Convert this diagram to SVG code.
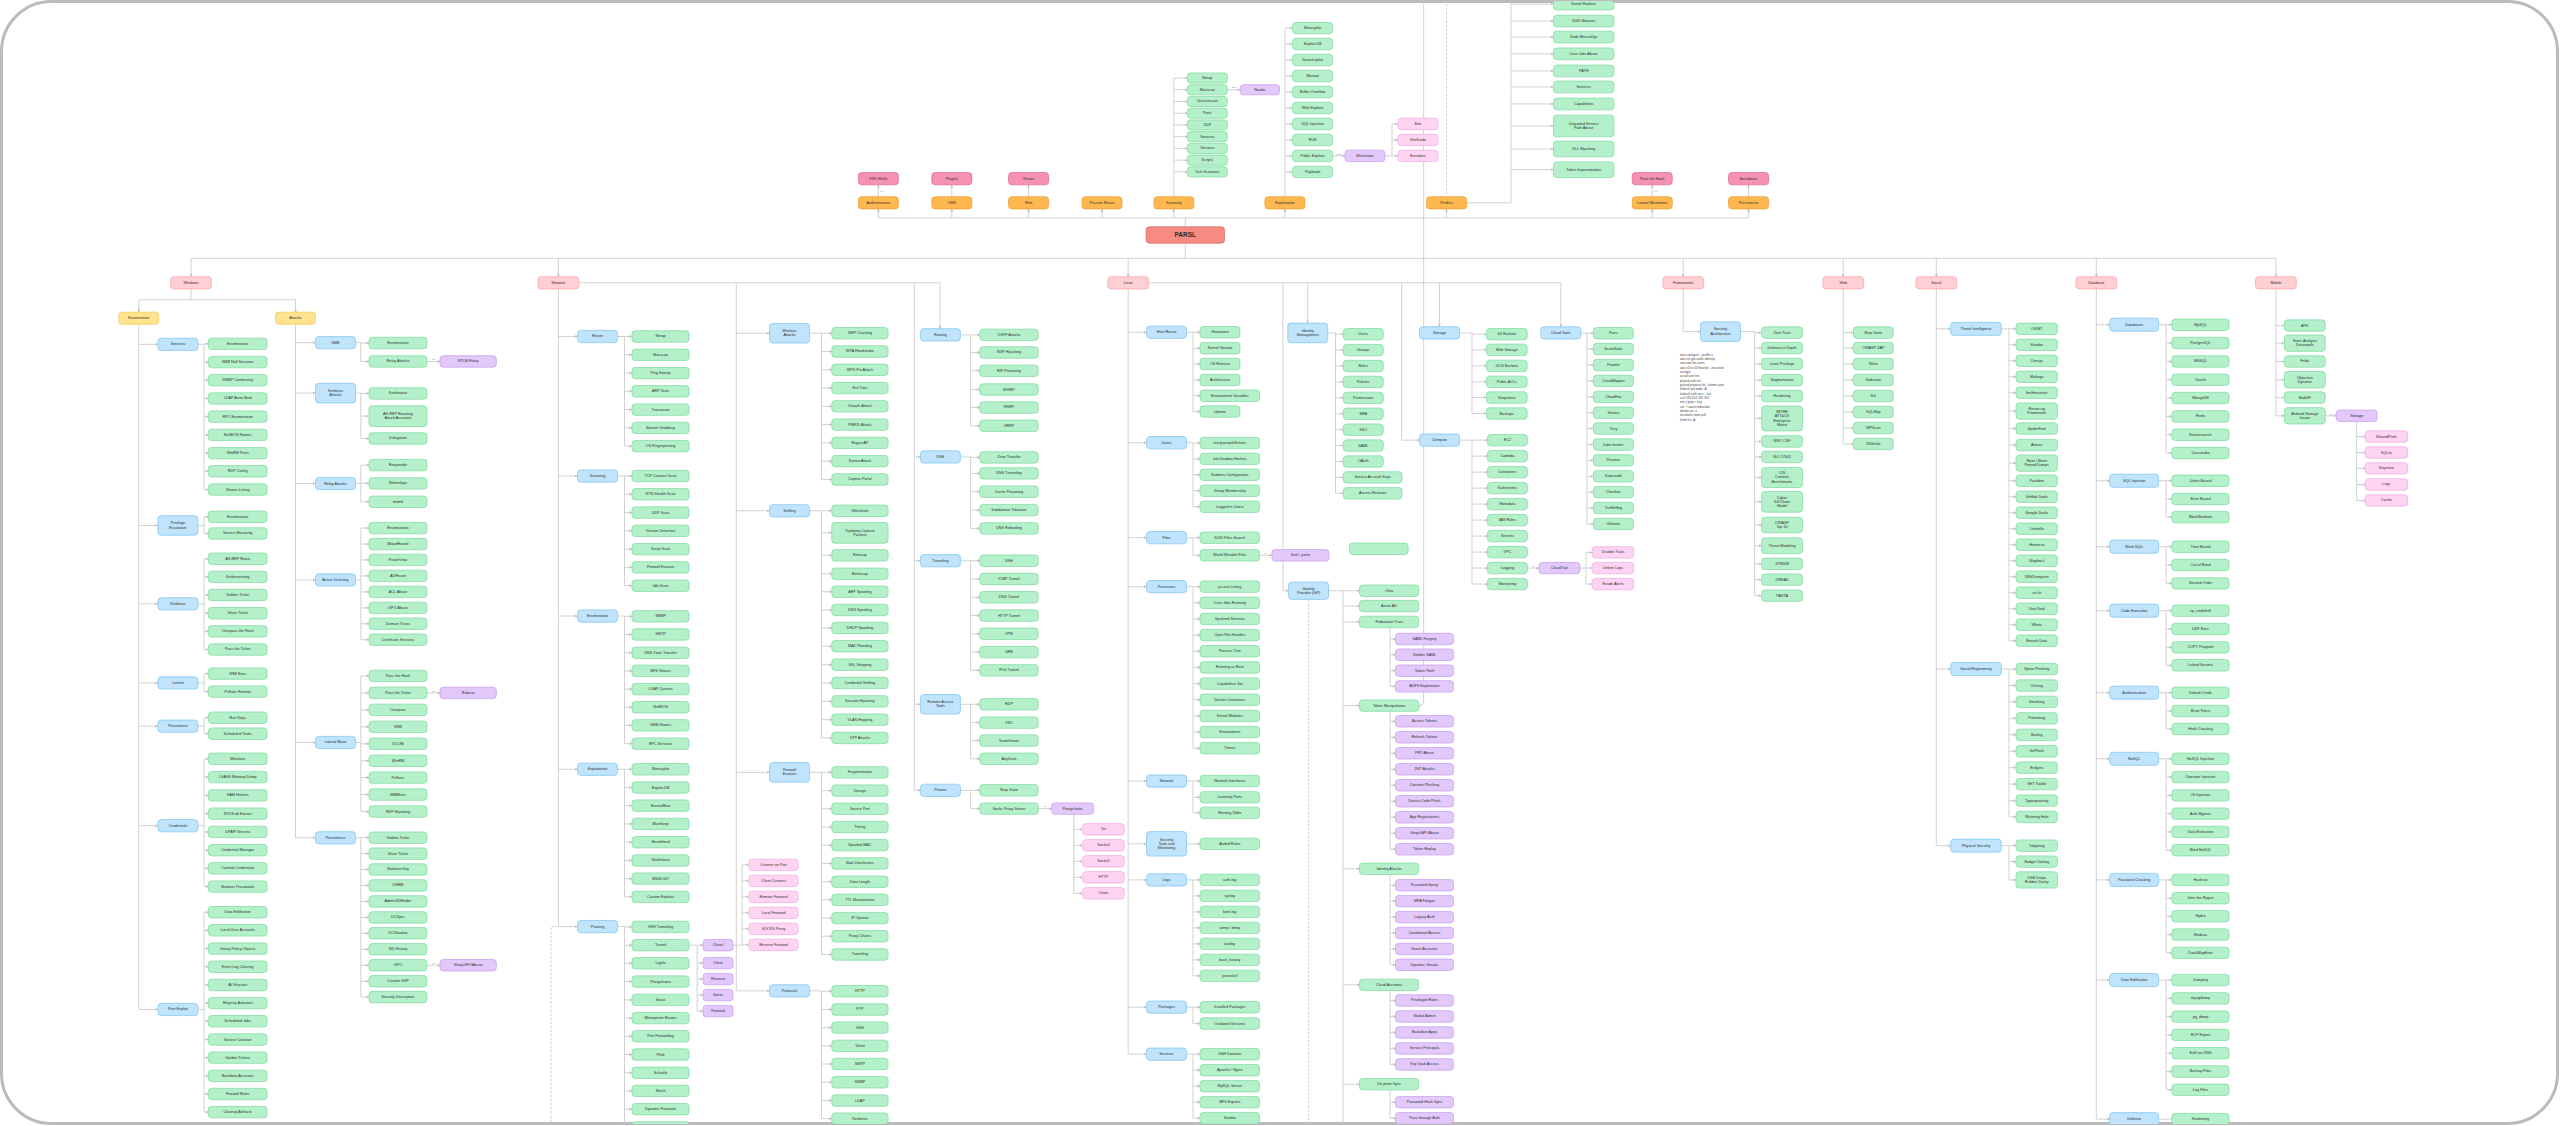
<svg xmlns="http://www.w3.org/2000/svg" width="2560" height="1126" viewBox="0 0 2560 1126">
<style>
.n rect{stroke-width:.45;rx:2px;ry:2px}
.n text,.n tspan{font-family:"Liberation Sans",Arial,sans-serif;font-size:2.3px;fill:#2b2b2b;text-anchor:middle;dominant-baseline:central}
.gr rect{fill:#b4f1ca;stroke:#80d9a1}
.bl rect{fill:#bfe4fc;stroke:#80c4f3}
.pu rect{fill:#e3c9fb;stroke:#c49ef0}
.pk rect{fill:#ffd4f3;stroke:#f3a9e2}
.ct rect{fill:#ffd0d3;stroke:#f4a4aa}
.or rect{fill:#ffb850;stroke:#eea033}
.hp rect{fill:#f592b2;stroke:#e26892}
.ye rect{fill:#ffe38f;stroke:#f0ce60}
.rt rect{fill:#f58b83;stroke:#e0665e}
.rt text{font-size:4px;font-weight:bold}
#cn path{fill:none;stroke:#cdcdcd;stroke-width:.55}
#cn .s{marker-end:url(#ar)}
#cn .d{stroke-dasharray:1.5 1}
.lb{font-family:"Liberation Sans",Arial,sans-serif;font-size:1.4px;fill:#888;text-anchor:middle}
.note{font-family:"Liberation Sans",Arial,sans-serif;font-size:1.9px;fill:#444}
</style>
<defs>
<marker id="ar" viewBox="0 0 6 6" refX="5.5" refY="3" markerWidth="1.8" markerHeight="1.8" orient="auto" markerUnits="userSpaceOnUse"><path d="M0,0L6,3L0,6z" fill="#c2c2c2"/></marker>
<clipPath id="fc"><rect x="1" y="1" width="2557" height="1123" rx="50"/></clipPath>
</defs>
<rect x="1.5" y="1.5" width="2556" height="1122" rx="50" fill="#fff" stroke="#bbbbbb" stroke-width="3"/>
<g clip-path="url(#fc)">
<g transform="scale(1.63265,1.63188)">
<g id="cn">
<path d="M726 139V133.5M538 133.5H1071"/>
<path class="s" d="M538 133.5V128.05"/><path class="s" d="M583 133.5V128.05"/><path class="s" d="M630 133.5V128.05"/><path class="s" d="M675 133.5V128.05"/><path class="s" d="M719 133.5V128.05"/><path class="s" d="M787 133.5V128.05"/><path class="s" d="M886 133.5V128.05"/><path class="s" d="M1012 133.5V128.05"/><path class="s" d="M1071 133.5V128.05"/>
<path class="s" d="M538 120.55V113.25"/><path class="s" d="M583 120.55V113.25"/><path class="s" d="M630 120.55V113.25"/><path class="s" d="M1012 120.55V113.25"/><path class="s" d="M1071 120.55V113.25"/>
<path d="M719 120.55V47.8"/>
<path class="s" d="M719 47.8H727.25"/><path class="s" d="M719 54.99H727.25"/><path class="s" d="M719 62.18H727.25"/><path class="s" d="M719 69.37H727.25"/><path class="s" d="M719 76.56H727.25"/><path class="s" d="M719 83.75H727.25"/><path class="s" d="M719 90.94H727.25"/><path class="s" d="M719 98.13H727.25"/><path class="s" d="M719 105.32H727.25"/>
<path class="s" d="M751.75 54.99H759.7"/>
<path d="M787 120.55V17.2"/>
<path class="s" d="M787 17.2H791.75"/><path class="s" d="M787 26.99H791.75"/><path class="s" d="M787 36.78H791.75"/><path class="s" d="M787 46.57H791.75"/><path class="s" d="M787 56.36H791.75"/><path class="s" d="M787 66.15H791.75"/><path class="s" d="M787 75.94H791.75"/><path class="s" d="M787 85.73H791.75"/><path class="s" d="M787 95.52H791.75"/><path class="s" d="M787 105.31H791.75"/>
<path class="s" d="M816.25 95.52H823.75"/>
<path d="M848.25 95.52H852.6M852.6 75.94V95.52"/>
<path class="s" d="M852.6 75.94H856.25"/><path class="s" d="M852.6 85.73H856.25"/><path class="s" d="M852.6 95.52H856.25"/>
<path d="M898.25 124.3H925.5V-5"/>
<path class="s" d="M925.5 2.5H951.5"/><path class="s" d="M925.5 12.9H951.5"/><path class="s" d="M925.5 22.7H951.5"/><path class="s" d="M925.5 33H951.5"/><path class="s" d="M925.5 43.5H951.5"/><path class="s" d="M925.5 53.3H951.5"/><path class="s" d="M925.5 63.7H951.5"/><path class="s" d="M925.5 77.2H951.5"/><path class="s" d="M925.5 91.3H951.5"/><path class="s" d="M925.5 104H951.5"/>
<path class="d" d="M886 -5V120.55"/>
<path class="s" d="M872 -5V429.4Q872 432.4 869 432.4"/>
<path d="M726 149V158.3M117 158.3H1394"/>
<path class="s" d="M117 158.3V169.55"/><path class="s" d="M342 158.3V169.55"/><path class="s" d="M691 158.3V169.55"/><path class="s" d="M1031 158.3V169.55"/><path class="s" d="M1129 158.3V169.55"/><path class="s" d="M1186 158.3V169.55"/><path class="s" d="M1284 158.3V169.55"/><path class="s" d="M1394 158.3V169.55"/>
<path d="M117 176.8V183.7M85 183.7H181"/>
<path class="s" d="M85 183.7V191.25"/><path class="s" d="M181 183.7V191.25"/>
<path d="M85 198.75V618.6"/>
<path class="s" d="M85 211H96.75"/><path class="s" d="M85 322H96.75"/><path class="s" d="M85 370H96.75"/><path class="s" d="M85 418.5H96.75"/><path class="s" d="M85 445H96.75"/><path class="s" d="M85 506H96.75"/><path class="s" d="M85 618.6H96.75"/>
<path d="M121.25 211H125M125 210.7V300M121.25 322H125M125 316.7V326.9M121.25 370H125M125 342.4V398M121.25 418.5H125M125 412.8V423.8M121.25 445H125M125 439.8V449.6M121.25 506H125M125 465V543.3M121.25 618.6H125M125 559V681.5"/>
<path class="s" d="M125 210.7H127.6"/><path class="s" d="M125 221.9H127.6"/><path class="s" d="M125 233H127.6"/><path class="s" d="M125 244.2H127.6"/><path class="s" d="M125 255.3H127.6"/><path class="s" d="M125 266.5H127.6"/><path class="s" d="M125 277.7H127.6"/><path class="s" d="M125 288.8H127.6"/><path class="s" d="M125 300H127.6"/>
<path class="s" d="M125 316.7H127.6"/><path class="s" d="M125 326.9H127.6"/>
<path class="s" d="M125 342.4H127.6"/><path class="s" d="M125 353.5H127.6"/><path class="s" d="M125 364.6H127.6"/><path class="s" d="M125 375.8H127.6"/><path class="s" d="M125 386.9H127.6"/><path class="s" d="M125 398H127.6"/>
<path class="s" d="M125 412.8H127.6"/><path class="s" d="M125 423.8H127.6"/><path class="s" d="M125 439.8H127.6"/><path class="s" d="M125 449.6H127.6"/>
<path class="s" d="M125 465H127.6"/><path class="s" d="M125 476.2H127.6"/><path class="s" d="M125 487.4H127.6"/><path class="s" d="M125 498.6H127.6"/><path class="s" d="M125 509.8H127.6"/><path class="s" d="M125 521H127.6"/><path class="s" d="M125 532.1H127.6"/><path class="s" d="M125 543.3H127.6"/>
<path class="s" d="M125 559H127.6"/><path class="s" d="M125 570.1H127.6"/><path class="s" d="M125 581.3H127.6"/><path class="s" d="M125 592.4H127.6"/><path class="s" d="M125 603.6H127.6"/><path class="s" d="M125 614.7H127.6"/><path class="s" d="M125 625.8H127.6"/><path class="s" d="M125 637H127.6"/><path class="s" d="M125 648.1H127.6"/><path class="s" d="M125 659.3H127.6"/><path class="s" d="M125 670.4H127.6"/><path class="s" d="M125 681.5H127.6"/>
<path d="M181 198.75V513.4"/>
<path class="s" d="M181 210H193.25"/><path class="s" d="M181 240.9H193.25"/><path class="s" d="M181 296.3H193.25"/><path class="s" d="M181 355.4H193.25"/><path class="s" d="M181 455H193.25"/><path class="s" d="M181 513.4H193.25"/>
<path d="M217.75 210H221M221 210V221.5M217.75 240.9H221M221 240.9V268.7M217.75 296.3H221M221 285V307.5M217.75 355.4H221M221 323.6V392M217.75 455H221M221 414.2V497.3M217.75 513.4H221M221 513.3V611"/>
<path class="s" d="M221 210.2H226"/><path class="s" d="M221 221.5H226"/><path class="s" d="M221 241.1H226"/><path class="s" d="M221 255H226"/><path class="s" d="M221 268.7H226"/><path class="s" d="M221 285H226"/><path class="s" d="M221 296.2H226"/><path class="s" d="M221 307.5H226"/>
<path class="s" d="M221 323.6H226"/><path class="s" d="M221 333.4H226"/><path class="s" d="M221 343.1H226"/><path class="s" d="M221 352.9H226"/><path class="s" d="M221 362.7H226"/><path class="s" d="M221 372.5H226"/><path class="s" d="M221 382.2H226"/><path class="s" d="M221 392H226"/>
<path class="s" d="M221 414.2H226"/><path class="s" d="M221 424.6H226"/><path class="s" d="M221 435H226"/><path class="s" d="M221 445.4H226"/><path class="s" d="M221 455.8H226"/><path class="s" d="M221 466.2H226"/><path class="s" d="M221 476.5H226"/><path class="s" d="M221 486.9H226"/><path class="s" d="M221 497.3H226"/>
<path class="s" d="M221 513.3H226"/><path class="s" d="M221 523.1H226"/><path class="s" d="M221 532.8H226"/><path class="s" d="M221 542.6H226"/><path class="s" d="M221 552.4H226"/><path class="s" d="M221 562.2H226"/><path class="s" d="M221 571.9H226"/><path class="s" d="M221 581.7H226"/><path class="s" d="M221 591.5H226"/><path class="s" d="M221 601.3H226"/><path class="s" d="M221 611H226"/>
<path class="s" d="M261.5 221.5H269.5"/><path class="s" d="M261.5 424.6H269.5"/><path class="s" d="M261.5 591.5H269.5"/>
<path d="M342 176.8V567.8M354.5 173.3H575.8M451 173.3V607.2M560 173.3V484.3"/>
<path class="s" d="M575.8 173.3V201.45"/>
<path class="d" d="M337.5 695V567.8H353.75"/>
<path class="s" d="M342 206.2H353.75"/><path class="s" d="M342 291.7H353.75"/><path class="s" d="M342 377.5H353.75"/><path class="s" d="M342 471.4H353.75"/><path class="s" d="M342 567.8H353.75"/>
<path d="M378.25 206.2H382.5M382.5 206.2V273.4M378.25 291.7H382.5M382.5 291.7V358.9M378.25 377.5H382.5M382.5 377.5V455.7M378.25 471.4H382.5M382.5 471.4V549.6M378.25 567.8H382.5M382.5 567.8V690.9"/>
<path class="s" d="M382.5 206.2H387.1"/><path class="s" d="M382.5 217.4H387.1"/><path class="s" d="M382.5 228.6H387.1"/><path class="s" d="M382.5 239.8H387.1"/><path class="s" d="M382.5 251H387.1"/><path class="s" d="M382.5 262.2H387.1"/><path class="s" d="M382.5 273.4H387.1"/>
<path class="s" d="M382.5 291.7H387.1"/><path class="s" d="M382.5 302.9H387.1"/><path class="s" d="M382.5 314.1H387.1"/><path class="s" d="M382.5 325.3H387.1"/><path class="s" d="M382.5 336.5H387.1"/><path class="s" d="M382.5 347.7H387.1"/><path class="s" d="M382.5 358.9H387.1"/>
<path class="s" d="M382.5 377.7H387.1"/><path class="s" d="M382.5 388.8H387.1"/><path class="s" d="M382.5 400H387.1"/><path class="s" d="M382.5 411.1H387.1"/><path class="s" d="M382.5 422.3H387.1"/><path class="s" d="M382.5 433.4H387.1"/><path class="s" d="M382.5 444.5H387.1"/><path class="s" d="M382.5 455.7H387.1"/>
<path class="s" d="M382.5 471.4H387.1"/><path class="s" d="M382.5 482.6H387.1"/><path class="s" d="M382.5 493.7H387.1"/><path class="s" d="M382.5 504.9H387.1"/><path class="s" d="M382.5 516.1H387.1"/><path class="s" d="M382.5 527.3H387.1"/><path class="s" d="M382.5 538.4H387.1"/><path class="s" d="M382.5 549.6H387.1"/>
<path class="s" d="M382.5 568H387.1"/><path class="s" d="M382.5 579.2H387.1"/><path class="s" d="M382.5 590.3H387.1"/><path class="s" d="M382.5 601.5H387.1"/><path class="s" d="M382.5 612.7H387.1"/><path class="s" d="M382.5 623.9H387.1"/><path class="s" d="M382.5 635H387.1"/><path class="s" d="M382.5 646.2H387.1"/><path class="s" d="M382.5 657.4H387.1"/><path class="s" d="M382.5 668.5H387.1"/><path class="s" d="M382.5 679.7H387.1"/><path class="s" d="M382.5 690.9H387.1"/>
<path d="M422.1 579.2H427M427 579.2V619.6"/>
<path class="s" d="M427 579.2H430.6"/><path class="s" d="M427 590.2H430.6"/><path class="s" d="M427 600H430.6"/><path class="s" d="M427 609.8H430.6"/><path class="s" d="M427 619.6H430.6"/>
<path d="M449 579.2H454.5M454.5 530V579.2"/>
<path class="s" d="M454.5 530H458.8"/><path class="s" d="M454.5 539.8H458.8"/><path class="s" d="M454.5 549.6H458.8"/><path class="s" d="M454.5 559.4H458.8"/><path class="s" d="M454.5 569.2H458.8"/><path class="s" d="M454.5 579H458.8"/>
<path class="s" d="M451 204.2H471.35"/><path class="s" d="M451 313H471.35"/><path class="s" d="M451 473.3H471.35"/><path class="s" d="M451 607.2H471.35"/>
<path d="M495.85 204.2H503.2M503.2 204.2V293.8M495.85 313H503.2M503.2 313V452.2M495.85 473.3H503.2M503.2 473.3V584.9M495.85 607.2H503.2M503.2 607.2V685.5"/>
<path class="s" d="M503.2 204.2H509.45"/><path class="s" d="M503.2 215.4H509.45"/><path class="s" d="M503.2 226.6H509.45"/><path class="s" d="M503.2 237.8H509.45"/><path class="s" d="M503.2 249H509.45"/><path class="s" d="M503.2 260.2H509.45"/><path class="s" d="M503.2 271.4H509.45"/><path class="s" d="M503.2 282.6H509.45"/><path class="s" d="M503.2 293.8H509.45"/>
<path class="s" d="M503.2 313H509.45"/><path class="s" d="M503.2 326.5H509.45"/><path class="s" d="M503.2 340.3H509.45"/><path class="s" d="M503.2 351.6H509.45"/><path class="s" d="M503.2 362.6H509.45"/><path class="s" d="M503.2 373.8H509.45"/><path class="s" d="M503.2 384.8H509.45"/><path class="s" d="M503.2 396H509.45"/><path class="s" d="M503.2 407.3H509.45"/><path class="s" d="M503.2 418.5H509.45"/><path class="s" d="M503.2 429.8H509.45"/><path class="s" d="M503.2 441H509.45"/><path class="s" d="M503.2 452.2H509.45"/>
<path class="s" d="M503.2 473.3H509.45"/><path class="s" d="M503.2 484.5H509.45"/><path class="s" d="M503.2 495.6H509.45"/><path class="s" d="M503.2 506.8H509.45"/><path class="s" d="M503.2 517.9H509.45"/><path class="s" d="M503.2 529.1H509.45"/><path class="s" d="M503.2 540.3H509.45"/><path class="s" d="M503.2 551.4H509.45"/><path class="s" d="M503.2 562.6H509.45"/><path class="s" d="M503.2 573.7H509.45"/><path class="s" d="M503.2 584.9H509.45"/>
<path class="s" d="M503.2 607.4H509.45"/><path class="s" d="M503.2 618.6H509.45"/><path class="s" d="M503.2 629.7H509.45"/><path class="s" d="M503.2 640.9H509.45"/><path class="s" d="M503.2 652H509.45"/><path class="s" d="M503.2 663.2H509.45"/><path class="s" d="M503.2 674.4H509.45"/><path class="s" d="M503.2 685.5H509.45"/>
<path class="s" d="M560 280H563.75"/><path class="s" d="M560 343.6H563.75"/><path class="s" d="M560 431.6H563.75"/><path class="s" d="M560 484.3H563.75"/>
<path d="M588.25 205.2H594.5M594.5 205.2V260.9M588.25 280H594.5M594.5 280V323.8M588.25 343.6H594.5M594.5 343.6V410.8M588.25 431.6H594.5M594.5 431.6V465M588.25 484.3H594.5M594.5 484.3V495.5"/>
<path class="s" d="M594.5 205.2H600.1"/><path class="s" d="M594.5 216H600.1"/><path class="s" d="M594.5 227.2H600.1"/><path class="s" d="M594.5 238.7H600.1"/><path class="s" d="M594.5 249.7H600.1"/><path class="s" d="M594.5 260.9H600.1"/>
<path class="s" d="M594.5 280.3H600.1"/><path class="s" d="M594.5 290.1H600.1"/><path class="s" d="M594.5 301.3H600.1"/><path class="s" d="M594.5 312.6H600.1"/><path class="s" d="M594.5 323.8H600.1"/>
<path class="s" d="M594.5 343.6H600.1"/><path class="s" d="M594.5 354.8H600.1"/><path class="s" d="M594.5 366H600.1"/><path class="s" d="M594.5 377.2H600.1"/><path class="s" d="M594.5 388.4H600.1"/><path class="s" d="M594.5 399.6H600.1"/><path class="s" d="M594.5 410.8H600.1"/>
<path class="s" d="M594.5 431.6H600.1"/><path class="s" d="M594.5 442.8H600.1"/><path class="s" d="M594.5 453.8H600.1"/><path class="s" d="M594.5 465H600.1"/>
<path class="s" d="M594.5 484.3H600.1"/><path class="s" d="M594.5 495.5H600.1"/>
<path class="s" d="M635.9 495.5H644.15"/>
<path d="M657.7 499V547.4"/>
<path class="s" d="M657.7 508.2H663.05"/><path class="s" d="M657.7 518H663.05"/><path class="s" d="M657.7 527.8H663.05"/><path class="s" d="M657.7 537.6H663.05"/><path class="s" d="M657.7 547.4H663.05"/>
<path d="M691 176.8V646M703.5 173.3H956"/>
<path class="s" d="M785.8 173.3V362H789.25"/><path class="s" d="M801 173.3V198"/><path class="s" d="M858.5 173.3V269.7H869.45"/><path class="s" d="M881.7 173.3V200.25"/><path class="s" d="M956 173.3V200.25"/>
<path class="s" d="M691 203.6H702.25"/><path class="s" d="M691 271.3H702.25"/><path class="s" d="M691 329.5H702.25"/><path class="s" d="M691 359.5H702.25"/><path class="s" d="M691 478.6H702.25"/><path class="s" d="M691 517.1H702.25"/><path class="s" d="M691 539.2H702.25"/><path class="s" d="M691 617.2H702.25"/><path class="s" d="M691 646H702.25"/>
<path d="M726.75 203.6H730.7M730.7 203.6V252.2M726.75 271.3H730.7M730.7 271.3V310.5M726.75 329.5H730.7M730.7 329.5V340.3M726.75 359.5H730.7M730.7 359.5V458.5M726.75 478.6H730.7M730.7 478.6V498.1M726.75 517.1H730.7M726.75 539.2H730.7M730.7 539.2V598M726.75 617.2H730.7M730.7 617.2V627.2M726.75 646H730.7M730.7 646V685.2"/>
<path class="s" d="M730.7 203.6H735"/><path class="s" d="M730.7 213.4H735"/><path class="s" d="M730.7 223H735"/><path class="s" d="M730.7 232.9H735"/><path class="s" d="M730.7 242.5H735"/><path class="s" d="M730.7 252.2H735"/>
<path class="s" d="M730.7 271.5H735"/><path class="s" d="M730.7 281.2H735"/><path class="s" d="M730.7 290.9H735"/><path class="s" d="M730.7 300.7H735"/><path class="s" d="M730.7 310.5H735"/>
<path class="s" d="M730.7 329.5H735"/><path class="s" d="M730.7 340.3H735"/>
<path class="s" d="M730.7 359.5H735"/><path class="s" d="M730.7 369.4H735"/><path class="s" d="M730.7 379.3H735"/><path class="s" d="M730.7 389.2H735"/><path class="s" d="M730.7 399.1H735"/><path class="s" d="M730.7 409H735"/><path class="s" d="M730.7 418.9H735"/><path class="s" d="M730.7 428.8H735"/><path class="s" d="M730.7 438.7H735"/><path class="s" d="M730.7 448.6H735"/><path class="s" d="M730.7 458.5H735"/>
<path class="s" d="M730.7 478.6H735"/><path class="s" d="M730.7 488.6H735"/><path class="s" d="M730.7 498.1H735"/><path class="s" d="M730.7 517.1H735"/>
<path class="s" d="M730.7 539.2H735"/><path class="s" d="M730.7 549H735"/><path class="s" d="M730.7 558.8H735"/><path class="s" d="M730.7 568.6H735"/><path class="s" d="M730.7 578.4H735"/><path class="s" d="M730.7 588.2H735"/><path class="s" d="M730.7 598H735"/>
<path class="s" d="M730.7 617.2H735"/><path class="s" d="M730.7 627.2H735"/>
<path class="s" d="M730.7 646H735"/><path class="s" d="M730.7 655.8H735"/><path class="s" d="M730.7 665.6H735"/><path class="s" d="M730.7 675.4H735"/><path class="s" d="M730.7 685.2H735"/>
<path class="s" d="M771.5 340.3H779"/>
<path d="M813.25 204H818M818 204V302.3"/>
<path class="s" d="M818 204.8H822.75"/><path class="s" d="M818 214.55H822.75"/><path class="s" d="M818 224.3H822.75"/><path class="s" d="M818 234.05H822.75"/><path class="s" d="M818 243.8H822.75"/><path class="s" d="M818 253.55H822.75"/><path class="s" d="M818 263.3H822.75"/><path class="s" d="M818 273.05H822.75"/><path class="s" d="M818 282.8H822.75"/><path class="s" d="M818 292.55H822.75"/><path class="s" d="M818 302.3H822.75"/>
<path d="M813.75 362H822.6M822.6 362V695"/>
<path class="d" d="M801.5 367.3V695"/>
<path class="s" d="M822.6 362H832.65"/><path class="s" d="M822.6 371.4H832.65"/><path class="s" d="M822.6 381.1H832.65"/><path class="s" d="M822.6 432.4H832.65"/><path class="s" d="M822.6 532.4H832.65"/><path class="s" d="M822.6 603.5H832.65"/><path class="s" d="M822.6 664.4H832.65"/>
<path d="M851.4 384.6V420.6M851.4 435.9V520.4M851.4 535.9V591.2M851.4 607V652.3M851.4 667.9V685.2"/>
<path class="s" d="M851.4 391.6H854.75"/><path class="s" d="M851.4 401.2H854.75"/><path class="s" d="M851.4 411H854.75"/><path class="s" d="M851.4 420.6H854.75"/>
<path class="s" d="M851.4 442H854.75"/><path class="s" d="M851.4 451.8H854.75"/><path class="s" d="M851.4 461.6H854.75"/><path class="s" d="M851.4 471.4H854.75"/><path class="s" d="M851.4 481.2H854.75"/><path class="s" d="M851.4 491H854.75"/><path class="s" d="M851.4 500.8H854.75"/><path class="s" d="M851.4 510.6H854.75"/><path class="s" d="M851.4 520.4H854.75"/>
<path class="s" d="M851.4 542.5H854.75"/><path class="s" d="M851.4 552.2H854.75"/><path class="s" d="M851.4 562H854.75"/><path class="s" d="M851.4 571.7H854.75"/><path class="s" d="M851.4 581.5H854.75"/><path class="s" d="M851.4 591.2H854.75"/>
<path class="s" d="M851.4 613.1H854.75"/><path class="s" d="M851.4 622.9H854.75"/><path class="s" d="M851.4 632.7H854.75"/><path class="s" d="M851.4 642.5H854.75"/><path class="s" d="M851.4 652.3H854.75"/>
<path class="s" d="M851.4 675.4H854.75"/><path class="s" d="M851.4 685.2H854.75"/>
<path d="M893.95 204H901.6M901.6 204V253.4M893.95 269.7H901.6M901.6 269.7V357.9"/>
<path class="s" d="M901.6 204.8H910.4"/><path class="s" d="M901.6 214.4H910.4"/><path class="s" d="M901.6 224.2H910.4"/><path class="s" d="M901.6 234H910.4"/><path class="s" d="M901.6 243.6H910.4"/><path class="s" d="M901.6 253.4H910.4"/>
<path class="s" d="M901.6 269.7H911.05"/><path class="s" d="M901.6 279.5H911.05"/><path class="s" d="M901.6 289.3H911.05"/><path class="s" d="M901.6 299.1H911.05"/><path class="s" d="M901.6 308.9H911.05"/><path class="s" d="M901.6 318.7H911.05"/><path class="s" d="M901.6 328.5H911.05"/><path class="s" d="M901.6 338.3H911.05"/><path class="s" d="M901.6 348.1H911.05"/><path class="s" d="M901.6 357.9H911.05"/>
<path class="s" d="M935.55 348.1H942.7"/>
<path d="M967.7 348.1H971.4M971.4 338.5V357.9"/>
<path class="s" d="M971.4 338.5H975.25"/><path class="s" d="M971.4 348.1H975.25"/><path class="s" d="M971.4 357.9H975.25"/>
<path d="M968.25 204H972M972 204V321.1"/>
<path class="s" d="M972 204.2H975.95"/><path class="s" d="M972 213.9H975.95"/><path class="s" d="M972 223.7H975.95"/><path class="s" d="M972 233.4H975.95"/><path class="s" d="M972 243.2H975.95"/><path class="s" d="M972 252.9H975.95"/><path class="s" d="M972 262.6H975.95"/><path class="s" d="M972 272.4H975.95"/><path class="s" d="M972 282.1H975.95"/><path class="s" d="M972 291.9H975.95"/><path class="s" d="M972 301.6H975.95"/><path class="s" d="M972 311.3H975.95"/><path class="s" d="M972 321.1H975.95"/>
<path class="s" d="M1031 176.8V203.2H1041.55"/>
<path d="M1066.05 203.2H1074.7M1074.7 203.2V365"/>
<path class="s" d="M1074.7 203.8H1079"/><path class="s" d="M1074.7 213.3H1079"/><path class="s" d="M1074.7 223H1079"/><path class="s" d="M1074.7 233H1079"/><path class="s" d="M1074.7 242.7H1079"/><path class="s" d="M1074.7 256.4H1079"/><path class="s" d="M1074.7 270.5H1079"/><path class="s" d="M1074.7 280H1079"/><path class="s" d="M1074.7 292.6H1079"/><path class="s" d="M1074.7 307.5H1079"/><path class="s" d="M1074.7 321.7H1079"/><path class="s" d="M1074.7 334.4H1079"/><path class="s" d="M1074.7 345.5H1079"/><path class="s" d="M1074.7 355.2H1079"/><path class="s" d="M1074.7 365H1079"/>
<path d="M1129 176.8V272.1"/>
<path class="s" d="M1129 203.8H1135.15"/><path class="s" d="M1129 213.3H1135.15"/><path class="s" d="M1129 223.1H1135.15"/><path class="s" d="M1129 232.9H1135.15"/><path class="s" d="M1129 242.7H1135.15"/><path class="s" d="M1129 252.5H1135.15"/><path class="s" d="M1129 262.3H1135.15"/><path class="s" d="M1129 272.1H1135.15"/>
<path d="M1186 176.8V518.2"/>
<path class="s" d="M1186 201.5H1194.8"/><path class="s" d="M1186 410H1194.8"/><path class="s" d="M1186 518.2H1194.8"/>
<path d="M1225.8 201.5H1230.5M1230.5 201.5V392.6M1225.8 410H1230.5M1230.5 410V500.6M1225.8 518.2H1230.5M1230.5 518.2V539.2"/>
<path class="s" d="M1230.5 201.5H1234.8"/><path class="s" d="M1230.5 211.3H1234.8"/><path class="s" d="M1230.5 221.1H1234.8"/><path class="s" d="M1230.5 230.9H1234.8"/><path class="s" d="M1230.5 240.7H1234.8"/><path class="s" d="M1230.5 251.9H1234.8"/><path class="s" d="M1230.5 262.6H1234.8"/><path class="s" d="M1230.5 272.7H1234.8"/><path class="s" d="M1230.5 283.8H1234.8"/><path class="s" d="M1230.5 294.6H1234.8"/><path class="s" d="M1230.5 304.4H1234.8"/><path class="s" d="M1230.5 314.2H1234.8"/><path class="s" d="M1230.5 324H1234.8"/><path class="s" d="M1230.5 333.8H1234.8"/><path class="s" d="M1230.5 343.6H1234.8"/><path class="s" d="M1230.5 353.4H1234.8"/><path class="s" d="M1230.5 363.2H1234.8"/><path class="s" d="M1230.5 373H1234.8"/><path class="s" d="M1230.5 382.8H1234.8"/><path class="s" d="M1230.5 392.6H1234.8"/>
<path class="s" d="M1230.5 410H1234.8"/><path class="s" d="M1230.5 420.1H1234.8"/><path class="s" d="M1230.5 430.1H1234.8"/><path class="s" d="M1230.5 440.2H1234.8"/><path class="s" d="M1230.5 450.3H1234.8"/><path class="s" d="M1230.5 460.4H1234.8"/><path class="s" d="M1230.5 470.4H1234.8"/><path class="s" d="M1230.5 480.5H1234.8"/><path class="s" d="M1230.5 490.6H1234.8"/><path class="s" d="M1230.5 500.6H1234.8"/>
<path class="s" d="M1230.5 518.2H1234.8"/><path class="s" d="M1230.5 528H1234.8"/><path class="s" d="M1230.5 539.2H1234.8"/>
<path d="M1284 176.8V685.8"/>
<path class="s" d="M1284 199H1292.2"/><path class="s" d="M1284 294.6H1292.2"/><path class="s" d="M1284 335H1292.2"/><path class="s" d="M1284 374.2H1292.2"/><path class="s" d="M1284 424.5H1292.2"/><path class="s" d="M1284 465H1292.2"/><path class="s" d="M1284 539.2H1292.2"/><path class="s" d="M1284 600.6H1292.2"/><path class="s" d="M1284 685.8H1292.2"/>
<path d="M1322.2 199H1326.7M1326.7 199V277.6M1322.2 294.6H1326.7M1326.7 294.6V316.9M1322.2 335H1326.7M1326.7 335V357.5M1322.2 374.2H1326.7M1326.7 374.2V407.7M1322.2 424.5H1326.7M1326.7 424.5V446.7M1322.2 465H1326.7M1326.7 465V521M1322.2 539.2H1326.7M1326.7 539.2V583.9M1322.2 600.6H1326.7M1326.7 600.6V667.8M1322.2 685.8H1330.3"/>
<path class="s" d="M1326.7 199H1330.3"/><path class="s" d="M1326.7 210.2H1330.3"/><path class="s" d="M1326.7 221.5H1330.3"/><path class="s" d="M1326.7 232.7H1330.3"/><path class="s" d="M1326.7 243.9H1330.3"/><path class="s" d="M1326.7 255.2H1330.3"/><path class="s" d="M1326.7 266.4H1330.3"/><path class="s" d="M1326.7 277.6H1330.3"/>
<path class="s" d="M1326.7 294.6H1330.3"/><path class="s" d="M1326.7 305.8H1330.3"/><path class="s" d="M1326.7 316.9H1330.3"/><path class="s" d="M1326.7 335H1330.3"/><path class="s" d="M1326.7 346.2H1330.3"/><path class="s" d="M1326.7 357.5H1330.3"/>
<path class="s" d="M1326.7 374.2H1330.3"/><path class="s" d="M1326.7 385.4H1330.3"/><path class="s" d="M1326.7 396.7H1330.3"/><path class="s" d="M1326.7 407.7H1330.3"/><path class="s" d="M1326.7 424.5H1330.3"/><path class="s" d="M1326.7 435.7H1330.3"/><path class="s" d="M1326.7 446.7H1330.3"/>
<path class="s" d="M1326.7 465H1330.3"/><path class="s" d="M1326.7 476.2H1330.3"/><path class="s" d="M1326.7 487.4H1330.3"/><path class="s" d="M1326.7 498.6H1330.3"/><path class="s" d="M1326.7 509.8H1330.3"/><path class="s" d="M1326.7 521H1330.3"/>
<path class="s" d="M1326.7 539.2H1330.3"/><path class="s" d="M1326.7 550.4H1330.3"/><path class="s" d="M1326.7 561.5H1330.3"/><path class="s" d="M1326.7 572.7H1330.3"/><path class="s" d="M1326.7 583.9H1330.3"/>
<path class="s" d="M1326.7 600.6H1330.3"/><path class="s" d="M1326.7 611.8H1330.3"/><path class="s" d="M1326.7 623H1330.3"/><path class="s" d="M1326.7 634.2H1330.3"/><path class="s" d="M1326.7 645.4H1330.3"/><path class="s" d="M1326.7 656.6H1330.3"/><path class="s" d="M1326.7 667.8H1330.3"/>
<path d="M1394 176.8V254.8"/>
<path class="s" d="M1394 199.5H1399.2"/><path class="s" d="M1394 210.3H1399.2"/><path class="s" d="M1394 221.5H1399.2"/><path class="s" d="M1394 232.7H1399.2"/><path class="s" d="M1394 243.6H1399.2"/><path class="s" d="M1394 254.8H1399.2"/>
<path class="s" d="M1424.2 254.8H1431"/>
<path d="M1443.5 258.3V306.7"/>
<path class="s" d="M1443.5 267.5H1448.7"/><path class="s" d="M1443.5 277.3H1448.7"/><path class="s" d="M1443.5 287H1448.7"/><path class="s" d="M1443.5 296.9H1448.7"/><path class="s" d="M1443.5 306.7H1448.7"/>
</g>
<g id="link-labels">
<text class="lb" x="540" y="117.4">via</text><text class="lb" x="1014" y="117.4">via</text><text class="lb" x="755.7" y="54.2">uses</text><text class="lb" x="820" y="94.8">uses</text><text class="lb" x="265.5" y="220.8">via</text><text class="lb" x="265.5" y="423.9">via</text><text class="lb" x="265.5" y="590.8">via</text><text class="lb" x="775.3" y="339.6">via</text><text class="lb" x="640" y="494.8">via</text><text class="lb" x="939.1" y="347.4">via</text><text class="lb" x="1427.6" y="254.1">via</text>
</g>
<g id="note">
<text class="note" x="1029" y="218">aws configure --profile x</text>
<text class="note" x="1029" y="220.65">aws sts get-caller-identity</text>
<text class="note" x="1029" y="223.3">aws iam list-users</text>
<text class="note" x="1029" y="225.95">aws s3 ls s3://bucket --recursive</text>
<text class="note" x="1029" y="228.6">az login</text>
<text class="note" x="1029" y="231.25">az ad user list</text>
<text class="note" x="1029" y="233.9">gcloud auth list</text>
<text class="note" x="1029" y="236.55">gcloud projects list --format json</text>
<text class="note" x="1029" y="239.2">kubectl get pods -A</text>
<text class="note" x="1029" y="241.85">kubectl auth can-i --list</text>
<text class="note" x="1029" y="244.5">curl 169.254.169.254</text>
<text class="note" x="1029" y="247.15">env | grep -i key</text>
<text class="note" x="1029" y="249.8">cat ~/.aws/credentials</text>
<text class="note" x="1029" y="252.45">docker ps -a</text>
<text class="note" x="1029" y="255.1">terraform state pull</text>
<text class="note" x="1029" y="257.75">helm list -A</text>
</g>
<g id="root" class="n rt"><rect x="702" y="139" width="48" height="10"/><text x="726" y="144">PARSL</text></g>
<g id="o1" class="n or"><rect x="525.75" y="120.55" width="24.5" height="7.5"/><text x="538" y="124.3">Authentication</text></g>
<g id="o2" class="n or"><rect x="570.75" y="120.55" width="24.5" height="7.5"/><text x="583" y="124.3">CMS</text></g>
<g id="o3" class="n or"><rect x="617.75" y="120.55" width="24.5" height="7.5"/><text x="630" y="124.3">Web</text></g>
<g id="o4" class="n or"><rect x="662.75" y="120.55" width="24.5" height="7.5"/><text x="675" y="124.3">Passive Recon</text></g>
<g id="o5" class="n or"><rect x="706.75" y="120.55" width="24.5" height="7.5"/><text x="719" y="124.3">Scanning</text></g>
<g id="o6" class="n or"><rect x="774.75" y="120.55" width="24.5" height="7.5"/><text x="787" y="124.3">Exploitation</text></g>
<g id="o7" class="n or"><rect x="873.75" y="120.55" width="24.5" height="7.5"/><text x="886" y="124.3">PrivEsc</text></g>
<g id="o8" class="n or"><rect x="999.75" y="120.55" width="24.5" height="7.5"/><text x="1012" y="124.3">Lateral Movement</text></g>
<g id="o9" class="n or"><rect x="1058.75" y="120.55" width="24.5" height="7.5"/><text x="1071" y="124.3">Persistence</text></g>
<g id="p1" class="n hp"><rect x="525.75" y="105.75" width="24.5" height="7.5"/><text x="538" y="109.5">XSS Shells</text></g>
<g id="p2" class="n hp"><rect x="570.75" y="105.75" width="24.5" height="7.5"/><text x="583" y="109.5">Plugins</text></g>
<g id="p3" class="n hp"><rect x="617.75" y="105.75" width="24.5" height="7.5"/><text x="630" y="109.5">Vhosts</text></g>
<g id="p8" class="n hp"><rect x="999.75" y="105.75" width="24.5" height="7.5"/><text x="1012" y="109.5">Pass the Hash</text></g>
<g id="p9" class="n hp"><rect x="1058.75" y="105.75" width="24.5" height="7.5"/><text x="1071" y="109.5">Backdoors</text></g>
<g id="s1" class="n gr"><rect x="727.25" y="44.7" width="24.5" height="6.2"/><text x="739.5" y="47.8">Nmap</text></g>
<g id="s2" class="n gr"><rect x="727.25" y="51.89" width="24.5" height="6.2"/><text x="739.5" y="54.99">Masscan</text></g>
<g id="s3" class="n gr"><rect x="727.25" y="59.08" width="24.5" height="6.2"/><text x="739.5" y="62.18">Unicornscan</text></g>
<g id="s4" class="n gr"><rect x="727.25" y="66.27" width="24.5" height="6.2"/><text x="739.5" y="69.37">Ports</text></g>
<g id="s5" class="n gr"><rect x="727.25" y="73.46" width="24.5" height="6.2"/><text x="739.5" y="76.56">UDP</text></g>
<g id="s6" class="n gr"><rect x="727.25" y="80.65" width="24.5" height="6.2"/><text x="739.5" y="83.75">Services</text></g>
<g id="s7" class="n gr"><rect x="727.25" y="87.84" width="24.5" height="6.2"/><text x="739.5" y="90.94">Versions</text></g>
<g id="s8" class="n gr"><rect x="727.25" y="95.03" width="24.5" height="6.2"/><text x="739.5" y="98.13">Scripts</text></g>
<g id="s9" class="n gr"><rect x="727.25" y="102.22" width="24.5" height="6.2"/><text x="739.5" y="105.32">Vuln Scanners</text></g>
<g id="s2p" class="n pu"><rect x="759.7" y="51.89" width="24" height="6.2"/><text x="771.7" y="54.99">Naabu</text></g>
<g id="e1" class="n gr"><rect x="791.75" y="13.7" width="24.5" height="7"/><text x="804" y="17.2">Metasploit</text></g>
<g id="e2" class="n gr"><rect x="791.75" y="23.49" width="24.5" height="7"/><text x="804" y="26.99">Exploit-DB</text></g>
<g id="e3" class="n gr"><rect x="791.75" y="33.28" width="24.5" height="7"/><text x="804" y="36.78">Searchsploit</text></g>
<g id="e4" class="n gr"><rect x="791.75" y="43.07" width="24.5" height="7"/><text x="804" y="46.57">Manual</text></g>
<g id="e5" class="n gr"><rect x="791.75" y="52.86" width="24.5" height="7"/><text x="804" y="56.36">Buffer Overflow</text></g>
<g id="e6" class="n gr"><rect x="791.75" y="62.65" width="24.5" height="7"/><text x="804" y="66.15">Web Exploits</text></g>
<g id="e7" class="n gr"><rect x="791.75" y="72.44" width="24.5" height="7"/><text x="804" y="75.94">SQL Injection</text></g>
<g id="e8" class="n gr"><rect x="791.75" y="82.23" width="24.5" height="7"/><text x="804" y="85.73">RCE</text></g>
<g id="e9" class="n gr"><rect x="791.75" y="92.02" width="24.5" height="7"/><text x="804" y="95.52">Public Exploits</text></g>
<g id="e10" class="n gr"><rect x="791.75" y="101.81" width="24.5" height="7"/><text x="804" y="105.31">Payloads</text></g>
<g id="e9p" class="n pu"><rect x="823.75" y="92.02" width="24.5" height="7"/><text x="836" y="95.52">Msfvenom</text></g>
<g id="e9k1" class="n pk"><rect x="856.25" y="72.44" width="24.5" height="7"/><text x="868.5" y="75.94">Exe</text></g>
<g id="e9k2" class="n pk"><rect x="856.25" y="82.23" width="24.5" height="7"/><text x="868.5" y="85.73">Shellcode</text></g>
<g id="e9k3" class="n pk"><rect x="856.25" y="92.02" width="24.5" height="7"/><text x="868.5" y="95.52">Encoders</text></g>
<g id="v1" class="n gr"><rect x="951.5" y="-1.1" width="37" height="7.2"/><text x="970" y="2.5">Kernel Exploits</text></g>
<g id="v2" class="n gr"><rect x="951.5" y="9.3" width="37" height="7.2"/><text x="970" y="12.9">SUID Binaries</text></g>
<g id="v3" class="n gr"><rect x="951.5" y="19.1" width="37" height="7.2"/><text x="970" y="22.7">Sudo Misconfigs</text></g>
<g id="v4" class="n gr"><rect x="951.5" y="29.4" width="37" height="7.2"/><text x="970" y="33">Cron Jobs Abuse</text></g>
<g id="v5" class="n gr"><rect x="951.5" y="39.9" width="37" height="7.2"/><text x="970" y="43.5">PATH</text></g>
<g id="v6" class="n gr"><rect x="951.5" y="49.7" width="37" height="7.2"/><text x="970" y="53.3">Services</text></g>
<g id="v7" class="n gr"><rect x="951.5" y="60.1" width="37" height="7.2"/><text x="970" y="63.7">Capabilities</text></g>
<g id="v8" class="n gr"><rect x="951.5" y="70.55" width="37" height="13.3"/><text x="970" y="77.2"><tspan x="970" dy="-1.3">Unquoted Service</tspan><tspan x="970" dy="2.6">Path Abuse</tspan></text></g>
<g id="v9" class="n gr"><rect x="951.5" y="86.5" width="37" height="9.6"/><text x="970" y="91.3">DLL Hijacking</text></g>
<g id="v10" class="n gr"><rect x="951.5" y="99.2" width="37" height="9.6"/><text x="970" y="104">Token Impersonation</text></g>
<g id="c1" class="n ct"><rect x="104.5" y="169.55" width="25" height="7.5"/><text x="117" y="173.3">Windows</text></g>
<g id="c2" class="n ct"><rect x="329.5" y="169.55" width="25" height="7.5"/><text x="342" y="173.3">Network</text></g>
<g id="c3" class="n ct"><rect x="678.5" y="169.55" width="25" height="7.5"/><text x="691" y="173.3">Linux</text></g>
<g id="c4" class="n ct"><rect x="1018.5" y="169.55" width="25" height="7.5"/><text x="1031" y="173.3">Frameworks</text></g>
<g id="c5" class="n ct"><rect x="1116.5" y="169.55" width="25" height="7.5"/><text x="1129" y="173.3">Web</text></g>
<g id="c6" class="n ct"><rect x="1173.5" y="169.55" width="25" height="7.5"/><text x="1186" y="173.3">Social</text></g>
<g id="c7" class="n ct"><rect x="1271.5" y="169.55" width="25" height="7.5"/><text x="1284" y="173.3">Database</text></g>
<g id="c8" class="n ct"><rect x="1381.5" y="169.55" width="25" height="7.5"/><text x="1394" y="173.3">Mobile</text></g>
<g id="y1" class="n ye"><rect x="72.75" y="191.25" width="24.5" height="7.5"/><text x="85" y="195">Enumeration</text></g>
<g id="y2" class="n ye"><rect x="168.75" y="191.25" width="24.5" height="7.5"/><text x="181" y="195">Attacks</text></g>
<g id="b11" class="n bl"><rect x="96.75" y="207.25" width="24.5" height="7.5"/><text x="109" y="211">Services</text></g>
<g id="b12" class="n bl"><rect x="96.75" y="316" width="24.5" height="12"/><text x="109" y="322"><tspan x="109" dy="-1.3">Privilege</tspan><tspan x="109" dy="2.6">Escalation</tspan></text></g>
<g id="b13" class="n bl"><rect x="96.75" y="366.25" width="24.5" height="7.5"/><text x="109" y="370">Kerberos</text></g>
<g id="b14" class="n bl"><rect x="96.75" y="414.75" width="24.5" height="7.5"/><text x="109" y="418.5">Lateral</text></g>
<g id="b15" class="n bl"><rect x="96.75" y="441.25" width="24.5" height="7.5"/><text x="109" y="445">Persistence</text></g>
<g id="b16" class="n bl"><rect x="96.75" y="502.25" width="24.5" height="7.5"/><text x="109" y="506">Credentials</text></g>
<g id="b17" class="n bl"><rect x="96.75" y="614.85" width="24.5" height="7.5"/><text x="109" y="618.6">Post Exploit</text></g>
<g id="g11a" class="n gr"><rect x="127.6" y="207.2" width="36" height="7"/><text x="145.6" y="210.7">Enumeration</text></g>
<g id="g11b" class="n gr"><rect x="127.6" y="218.4" width="36" height="7"/><text x="145.6" y="221.9">SMB Null Sessions</text></g>
<g id="g11c" class="n gr"><rect x="127.6" y="229.5" width="36" height="7"/><text x="145.6" y="233">SNMP Community</text></g>
<g id="g11d" class="n gr"><rect x="127.6" y="240.7" width="36" height="7"/><text x="145.6" y="244.2">LDAP Anon Bind</text></g>
<g id="g11e" class="n gr"><rect x="127.6" y="251.8" width="36" height="7"/><text x="145.6" y="255.3">RPC Enumeration</text></g>
<g id="g11f" class="n gr"><rect x="127.6" y="263" width="36" height="7"/><text x="145.6" y="266.5">NetBIOS Names</text></g>
<g id="g11g" class="n gr"><rect x="127.6" y="274.2" width="36" height="7"/><text x="145.6" y="277.7">WinRM Ports</text></g>
<g id="g11h" class="n gr"><rect x="127.6" y="285.3" width="36" height="7"/><text x="145.6" y="288.8">RDP Config</text></g>
<g id="g11i" class="n gr"><rect x="127.6" y="296.5" width="36" height="7"/><text x="145.6" y="300">Shares Listing</text></g>
<g id="g12a" class="n gr"><rect x="127.6" y="313.2" width="36" height="7"/><text x="145.6" y="316.7">Enumeration</text></g>
<g id="g12b" class="n gr"><rect x="127.6" y="323.4" width="36" height="7"/><text x="145.6" y="326.9">Service Misconfig</text></g>
<g id="g13a" class="n gr"><rect x="127.6" y="338.9" width="36" height="7"/><text x="145.6" y="342.4">AS-REP Roast</text></g>
<g id="g13b" class="n gr"><rect x="127.6" y="350" width="36" height="7"/><text x="145.6" y="353.5">Kerberoasting</text></g>
<g id="g13c" class="n gr"><rect x="127.6" y="361.1" width="36" height="7"/><text x="145.6" y="364.6">Golden Ticket</text></g>
<g id="g13d" class="n gr"><rect x="127.6" y="372.3" width="36" height="7"/><text x="145.6" y="375.8">Silver Ticket</text></g>
<g id="g13e" class="n gr"><rect x="127.6" y="383.4" width="36" height="7"/><text x="145.6" y="386.9">Overpass the Hash</text></g>
<g id="g13f" class="n gr"><rect x="127.6" y="394.5" width="36" height="7"/><text x="145.6" y="398">Pass the Ticket</text></g>
<g id="g14a" class="n gr"><rect x="127.6" y="409.3" width="36" height="7"/><text x="145.6" y="412.8">WMI Exec</text></g>
<g id="g14b" class="n gr"><rect x="127.6" y="420.3" width="36" height="7"/><text x="145.6" y="423.8">PsExec Remote</text></g>
<g id="g15a" class="n gr"><rect x="127.6" y="436.3" width="36" height="7"/><text x="145.6" y="439.8">Run Keys</text></g>
<g id="g15b" class="n gr"><rect x="127.6" y="446.1" width="36" height="7"/><text x="145.6" y="449.6">Scheduled Tasks</text></g>
<g id="g16a" class="n gr"><rect x="127.6" y="461.5" width="36" height="7"/><text x="145.6" y="465">Mimikatz</text></g>
<g id="g16b" class="n gr"><rect x="127.6" y="472.7" width="36" height="7"/><text x="145.6" y="476.2">LSASS Memory Dump</text></g>
<g id="g16c" class="n gr"><rect x="127.6" y="483.9" width="36" height="7"/><text x="145.6" y="487.4">SAM Hashes</text></g>
<g id="g16d" class="n gr"><rect x="127.6" y="495.1" width="36" height="7"/><text x="145.6" y="498.6">NTDS.dit Extract</text></g>
<g id="g16e" class="n gr"><rect x="127.6" y="506.3" width="36" height="7"/><text x="145.6" y="509.8">DPAPI Secrets</text></g>
<g id="g16f" class="n gr"><rect x="127.6" y="517.5" width="36" height="7"/><text x="145.6" y="521">Credential Manager</text></g>
<g id="g16g" class="n gr"><rect x="127.6" y="528.6" width="36" height="7"/><text x="145.6" y="532.1">Cached Credentials</text></g>
<g id="g16h" class="n gr"><rect x="127.6" y="539.8" width="36" height="7"/><text x="145.6" y="543.3">Browser Passwords</text></g>
<g id="g17a" class="n gr"><rect x="127.6" y="555.5" width="36" height="7"/><text x="145.6" y="559">Data Exfiltration</text></g>
<g id="g17b" class="n gr"><rect x="127.6" y="566.6" width="36" height="7"/><text x="145.6" y="570.1">Local User Accounts</text></g>
<g id="g17c" class="n gr"><rect x="127.6" y="577.8" width="36" height="7"/><text x="145.6" y="581.3">Group Policy Objects</text></g>
<g id="g17d" class="n gr"><rect x="127.6" y="588.9" width="36" height="7"/><text x="145.6" y="592.4">Event Log Clearing</text></g>
<g id="g17e" class="n gr"><rect x="127.6" y="600.1" width="36" height="7"/><text x="145.6" y="603.6">AV Evasion</text></g>
<g id="g17f" class="n gr"><rect x="127.6" y="611.2" width="36" height="7"/><text x="145.6" y="614.7">Registry Autostart</text></g>
<g id="g17g" class="n gr"><rect x="127.6" y="622.3" width="36" height="7"/><text x="145.6" y="625.8">Scheduled Jobs</text></g>
<g id="g17h" class="n gr"><rect x="127.6" y="633.5" width="36" height="7"/><text x="145.6" y="637">Service Creation</text></g>
<g id="g17i" class="n gr"><rect x="127.6" y="644.6" width="36" height="7"/><text x="145.6" y="648.1">Golden Tickets</text></g>
<g id="g17j" class="n gr"><rect x="127.6" y="655.8" width="36" height="7"/><text x="145.6" y="659.3">Backdoor Accounts</text></g>
<g id="g17k" class="n gr"><rect x="127.6" y="666.9" width="36" height="7"/><text x="145.6" y="670.4">Firewall Rules</text></g>
<g id="g17l" class="n gr"><rect x="127.6" y="678" width="36" height="7"/><text x="145.6" y="681.5">Cleanup Artifacts</text></g>
<g id="b21" class="n bl"><rect x="193.25" y="206.25" width="24.5" height="7.5"/><text x="205.5" y="210">SMB</text></g>
<g id="b22" class="n bl"><rect x="193.25" y="234.9" width="24.5" height="12"/><text x="205.5" y="240.9"><tspan x="205.5" dy="-1.3">Kerberos</tspan><tspan x="205.5" dy="2.6">Attacks</tspan></text></g>
<g id="b23" class="n bl"><rect x="193.25" y="292.55" width="24.5" height="7.5"/><text x="205.5" y="296.3">Relay Attacks</text></g>
<g id="b24" class="n bl"><rect x="193.25" y="351.65" width="24.5" height="7.5"/><text x="205.5" y="355.4">Active Directory</text></g>
<g id="b25" class="n bl"><rect x="193.25" y="451.25" width="24.5" height="7.5"/><text x="205.5" y="455">Lateral Move</text></g>
<g id="b26" class="n bl"><rect x="193.25" y="509.65" width="24.5" height="7.5"/><text x="205.5" y="513.4">Persistence</text></g>
<g id="g21a" class="n gr"><rect x="226" y="206.7" width="35.5" height="7"/><text x="243.75" y="210.2">Enumeration</text></g>
<g id="g21b" class="n gr"><rect x="226" y="218" width="35.5" height="7"/><text x="243.75" y="221.5">Relay Attacks</text></g>
<g id="g22a" class="n gr"><rect x="226" y="237.6" width="35.5" height="7"/><text x="243.75" y="241.1">Kerberoast</text></g>
<g id="g22b" class="n gr"><rect x="226" y="248.65" width="35.5" height="12.7"/><text x="243.75" y="255"><tspan x="243.75" dy="-1.3">AS-REP Roasting</tspan><tspan x="243.75" dy="2.6">Attack Accounts</tspan></text></g>
<g id="g22c" class="n gr"><rect x="226" y="265.2" width="35.5" height="7"/><text x="243.75" y="268.7">Delegation</text></g>
<g id="g23a" class="n gr"><rect x="226" y="281.5" width="35.5" height="7"/><text x="243.75" y="285">Responder</text></g>
<g id="g23b" class="n gr"><rect x="226" y="292.7" width="35.5" height="7"/><text x="243.75" y="296.2">Ntlmrelayx</text></g>
<g id="g23c" class="n gr"><rect x="226" y="304" width="35.5" height="7"/><text x="243.75" y="307.5">mitm6</text></g>
<g id="g24a" class="n gr"><rect x="226" y="320.1" width="35.5" height="7"/><text x="243.75" y="323.6">Enumeration</text></g>
<g id="g24b" class="n gr"><rect x="226" y="329.9" width="35.5" height="7"/><text x="243.75" y="333.4">BloodHound</text></g>
<g id="g24c" class="n gr"><rect x="226" y="339.6" width="35.5" height="7"/><text x="243.75" y="343.1">PowerView</text></g>
<g id="g24d" class="n gr"><rect x="226" y="349.4" width="35.5" height="7"/><text x="243.75" y="352.9">ADRecon</text></g>
<g id="g24e" class="n gr"><rect x="226" y="359.2" width="35.5" height="7"/><text x="243.75" y="362.7">ACL Abuse</text></g>
<g id="g24f" class="n gr"><rect x="226" y="369" width="35.5" height="7"/><text x="243.75" y="372.5">GPO Abuse</text></g>
<g id="g24g" class="n gr"><rect x="226" y="378.7" width="35.5" height="7"/><text x="243.75" y="382.2">Domain Trusts</text></g>
<g id="g24h" class="n gr"><rect x="226" y="388.5" width="35.5" height="7"/><text x="243.75" y="392">Certificate Services</text></g>
<g id="g25a" class="n gr"><rect x="226" y="410.7" width="35.5" height="7"/><text x="243.75" y="414.2">Pass the Hash</text></g>
<g id="g25b" class="n gr"><rect x="226" y="421.1" width="35.5" height="7"/><text x="243.75" y="424.6">Pass the Ticket</text></g>
<g id="g25c" class="n gr"><rect x="226" y="431.5" width="35.5" height="7"/><text x="243.75" y="435">Overpass</text></g>
<g id="g25d" class="n gr"><rect x="226" y="441.9" width="35.5" height="7"/><text x="243.75" y="445.4">WMI</text></g>
<g id="g25e" class="n gr"><rect x="226" y="452.3" width="35.5" height="7"/><text x="243.75" y="455.8">DCOM</text></g>
<g id="g25f" class="n gr"><rect x="226" y="462.7" width="35.5" height="7"/><text x="243.75" y="466.2">WinRM</text></g>
<g id="g25g" class="n gr"><rect x="226" y="473" width="35.5" height="7"/><text x="243.75" y="476.5">PsExec</text></g>
<g id="g25h" class="n gr"><rect x="226" y="483.4" width="35.5" height="7"/><text x="243.75" y="486.9">SMBExec</text></g>
<g id="g25i" class="n gr"><rect x="226" y="493.8" width="35.5" height="7"/><text x="243.75" y="497.3">RDP Hijacking</text></g>
<g id="g26a" class="n gr"><rect x="226" y="509.8" width="35.5" height="7"/><text x="243.75" y="513.3">Golden Ticket</text></g>
<g id="g26b" class="n gr"><rect x="226" y="519.6" width="35.5" height="7"/><text x="243.75" y="523.1">Silver Ticket</text></g>
<g id="g26c" class="n gr"><rect x="226" y="529.3" width="35.5" height="7"/><text x="243.75" y="532.8">Skeleton Key</text></g>
<g id="g26d" class="n gr"><rect x="226" y="539.1" width="35.5" height="7"/><text x="243.75" y="542.6">DSRM</text></g>
<g id="g26e" class="n gr"><rect x="226" y="548.9" width="35.5" height="7"/><text x="243.75" y="552.4">AdminSDHolder</text></g>
<g id="g26f" class="n gr"><rect x="226" y="558.7" width="35.5" height="7"/><text x="243.75" y="562.2">DCSync</text></g>
<g id="g26g" class="n gr"><rect x="226" y="568.4" width="35.5" height="7"/><text x="243.75" y="571.9">DCShadow</text></g>
<g id="g26h" class="n gr"><rect x="226" y="578.2" width="35.5" height="7"/><text x="243.75" y="581.7">SID History</text></g>
<g id="g26i" class="n gr"><rect x="226" y="588" width="35.5" height="7"/><text x="243.75" y="591.5">GPO</text></g>
<g id="g26j" class="n gr"><rect x="226" y="597.8" width="35.5" height="7"/><text x="243.75" y="601.3">Custom SSP</text></g>
<g id="g26k" class="n gr"><rect x="226" y="607.5" width="35.5" height="7"/><text x="243.75" y="611">Security Descriptors</text></g>
<g id="q21" class="n pu"><rect x="269.5" y="218" width="34.5" height="7"/><text x="286.75" y="221.5">NTLM Relay</text></g>
<g id="q25" class="n pu"><rect x="269.5" y="421.1" width="34.5" height="7"/><text x="286.75" y="424.6">Rubeus</text></g>
<g id="q26" class="n pu"><rect x="269.5" y="588" width="34.5" height="7"/><text x="286.75" y="591.5">SharpGPOAbuse</text></g>
<g id="ba1" class="n bl"><rect x="353.75" y="202.45" width="24.5" height="7.5"/><text x="366" y="206.2">Recon</text></g>
<g id="ba2" class="n bl"><rect x="353.75" y="287.95" width="24.5" height="7.5"/><text x="366" y="291.7">Scanning</text></g>
<g id="ba3" class="n bl"><rect x="353.75" y="373.75" width="24.5" height="7.5"/><text x="366" y="377.5">Enumeration</text></g>
<g id="ba4" class="n bl"><rect x="353.75" y="467.65" width="24.5" height="7.5"/><text x="366" y="471.4">Exploitation</text></g>
<g id="ba5" class="n bl"><rect x="353.75" y="564.05" width="24.5" height="7.5"/><text x="366" y="567.8">Pivoting</text></g>
<g id="ga1a" class="n gr"><rect x="387.1" y="202.7" width="35" height="7"/><text x="404.6" y="206.2">Nmap</text></g>
<g id="ga1b" class="n gr"><rect x="387.1" y="213.9" width="35" height="7"/><text x="404.6" y="217.4">Masscan</text></g>
<g id="ga1c" class="n gr"><rect x="387.1" y="225.1" width="35" height="7"/><text x="404.6" y="228.6">Ping Sweep</text></g>
<g id="ga1d" class="n gr"><rect x="387.1" y="236.3" width="35" height="7"/><text x="404.6" y="239.8">ARP Scan</text></g>
<g id="ga1e" class="n gr"><rect x="387.1" y="247.5" width="35" height="7"/><text x="404.6" y="251">Traceroute</text></g>
<g id="ga1f" class="n gr"><rect x="387.1" y="258.7" width="35" height="7"/><text x="404.6" y="262.2">Banner Grabbing</text></g>
<g id="ga1g" class="n gr"><rect x="387.1" y="269.9" width="35" height="7"/><text x="404.6" y="273.4">OS Fingerprinting</text></g>
<g id="ga2a" class="n gr"><rect x="387.1" y="288.2" width="35" height="7"/><text x="404.6" y="291.7">TCP Connect Scan</text></g>
<g id="ga2b" class="n gr"><rect x="387.1" y="299.4" width="35" height="7"/><text x="404.6" y="302.9">SYN Stealth Scan</text></g>
<g id="ga2c" class="n gr"><rect x="387.1" y="310.6" width="35" height="7"/><text x="404.6" y="314.1">UDP Scan</text></g>
<g id="ga2d" class="n gr"><rect x="387.1" y="321.8" width="35" height="7"/><text x="404.6" y="325.3">Version Detection</text></g>
<g id="ga2e" class="n gr"><rect x="387.1" y="333" width="35" height="7"/><text x="404.6" y="336.5">Script Scan</text></g>
<g id="ga2f" class="n gr"><rect x="387.1" y="344.2" width="35" height="7"/><text x="404.6" y="347.7">Firewall Evasion</text></g>
<g id="ga2g" class="n gr"><rect x="387.1" y="355.4" width="35" height="7"/><text x="404.6" y="358.9">Idle Scan</text></g>
<g id="ga3a" class="n gr"><rect x="387.1" y="374.2" width="35" height="7"/><text x="404.6" y="377.7">SNMP</text></g>
<g id="ga3b" class="n gr"><rect x="387.1" y="385.3" width="35" height="7"/><text x="404.6" y="388.8">SMTP</text></g>
<g id="ga3c" class="n gr"><rect x="387.1" y="396.5" width="35" height="7"/><text x="404.6" y="400">DNS Zone Transfer</text></g>
<g id="ga3d" class="n gr"><rect x="387.1" y="407.6" width="35" height="7"/><text x="404.6" y="411.1">NFS Shares</text></g>
<g id="ga3e" class="n gr"><rect x="387.1" y="418.8" width="35" height="7"/><text x="404.6" y="422.3">LDAP Queries</text></g>
<g id="ga3f" class="n gr"><rect x="387.1" y="429.9" width="35" height="7"/><text x="404.6" y="433.4">NetBIOS</text></g>
<g id="ga3g" class="n gr"><rect x="387.1" y="441" width="35" height="7"/><text x="404.6" y="444.5">SMB Shares</text></g>
<g id="ga3h" class="n gr"><rect x="387.1" y="452.2" width="35" height="7"/><text x="404.6" y="455.7">RPC Services</text></g>
<g id="ga4a" class="n gr"><rect x="387.1" y="467.9" width="35" height="7"/><text x="404.6" y="471.4">Metasploit</text></g>
<g id="ga4b" class="n gr"><rect x="387.1" y="479.1" width="35" height="7"/><text x="404.6" y="482.6">Exploit-DB</text></g>
<g id="ga4c" class="n gr"><rect x="387.1" y="490.2" width="35" height="7"/><text x="404.6" y="493.7">EternalBlue</text></g>
<g id="ga4d" class="n gr"><rect x="387.1" y="501.4" width="35" height="7"/><text x="404.6" y="504.9">BlueKeep</text></g>
<g id="ga4e" class="n gr"><rect x="387.1" y="512.6" width="35" height="7"/><text x="404.6" y="516.1">Heartbleed</text></g>
<g id="ga4f" class="n gr"><rect x="387.1" y="523.8" width="35" height="7"/><text x="404.6" y="527.3">Shellshock</text></g>
<g id="ga4g" class="n gr"><rect x="387.1" y="534.9" width="35" height="7"/><text x="404.6" y="538.4">MS08-067</text></g>
<g id="ga4h" class="n gr"><rect x="387.1" y="546.1" width="35" height="7"/><text x="404.6" y="549.6">Custom Exploits</text></g>
<g id="ga5a" class="n gr"><rect x="387.1" y="564.5" width="35" height="7"/><text x="404.6" y="568">SSH Tunneling</text></g>
<g id="ga5b" class="n gr"><rect x="387.1" y="575.7" width="35" height="7"/><text x="404.6" y="579.2">Tunnel</text></g>
<g id="ga5c" class="n gr"><rect x="387.1" y="586.8" width="35" height="7"/><text x="404.6" y="590.3">Ligolo</text></g>
<g id="ga5d" class="n gr"><rect x="387.1" y="598" width="35" height="7"/><text x="404.6" y="601.5">Proxychains</text></g>
<g id="ga5e" class="n gr"><rect x="387.1" y="609.2" width="35" height="7"/><text x="404.6" y="612.7">Socat</text></g>
<g id="ga5f" class="n gr"><rect x="387.1" y="620.4" width="35" height="7"/><text x="404.6" y="623.9">Meterpreter Routes</text></g>
<g id="ga5g" class="n gr"><rect x="387.1" y="631.5" width="35" height="7"/><text x="404.6" y="635">Port Forwarding</text></g>
<g id="ga5h" class="n gr"><rect x="387.1" y="642.7" width="35" height="7"/><text x="404.6" y="646.2">Plink</text></g>
<g id="ga5i" class="n gr"><rect x="387.1" y="653.9" width="35" height="7"/><text x="404.6" y="657.4">Sshuttle</text></g>
<g id="ga5j" class="n gr"><rect x="387.1" y="665" width="35" height="7"/><text x="404.6" y="668.5">Netsh</text></g>
<g id="ga5k" class="n gr"><rect x="387.1" y="676.2" width="35" height="7"/><text x="404.6" y="679.7">Dynamic Forwards</text></g>
<g id="ga5l" class="n gr"><rect x="387.1" y="687.4" width="35" height="7"/><text x="404.6" y="690.9">Double Pivot</text></g>
<g id="qa1" class="n pu"><rect x="430.6" y="575.7" width="18.4" height="7"/><text x="439.8" y="579.2">Chisel</text></g>
<g id="qa2" class="n pu"><rect x="430.6" y="586.7" width="18.4" height="7"/><text x="439.8" y="590.2">Client</text></g>
<g id="qa3" class="n pu"><rect x="430.6" y="596.5" width="18.4" height="7"/><text x="439.8" y="600">Reverse</text></g>
<g id="qa4" class="n pu"><rect x="430.6" y="606.3" width="18.4" height="7"/><text x="439.8" y="609.8">Socks</text></g>
<g id="qa5" class="n pu"><rect x="430.6" y="616.1" width="18.4" height="7"/><text x="439.8" y="619.6">Forward</text></g>
<g id="ka1" class="n pk"><rect x="458.8" y="526.5" width="30" height="7"/><text x="473.8" y="530">Listener on Port</text></g>
<g id="ka2" class="n pk"><rect x="458.8" y="536.3" width="30" height="7"/><text x="473.8" y="539.8">Client Connect</text></g>
<g id="ka3" class="n pk"><rect x="458.8" y="546.1" width="30" height="7"/><text x="473.8" y="549.6">Remote Forward</text></g>
<g id="ka4" class="n pk"><rect x="458.8" y="555.9" width="30" height="7"/><text x="473.8" y="559.4">Local Forward</text></g>
<g id="ka5" class="n pk"><rect x="458.8" y="565.7" width="30" height="7"/><text x="473.8" y="569.2">SOCKS Proxy</text></g>
<g id="ka6" class="n pk"><rect x="458.8" y="575.5" width="30" height="7"/><text x="473.8" y="579">Reverse Forward</text></g>
<g id="bb1" class="n bl"><rect x="471.35" y="198.2" width="24.5" height="12"/><text x="483.6" y="204.2"><tspan x="483.6" dy="-1.3">Wireless</tspan><tspan x="483.6" dy="2.6">Attacks</tspan></text></g>
<g id="bb2" class="n bl"><rect x="471.35" y="309.25" width="24.5" height="7.5"/><text x="483.6" y="313">Sniffing</text></g>
<g id="bb3" class="n bl"><rect x="471.35" y="467.3" width="24.5" height="12"/><text x="483.6" y="473.3"><tspan x="483.6" dy="-1.3">Firewall</tspan><tspan x="483.6" dy="2.6">Evasion</tspan></text></g>
<g id="bb4" class="n bl"><rect x="471.35" y="603.45" width="24.5" height="7.5"/><text x="483.6" y="607.2">Protocols</text></g>
<g id="gb1a" class="n gr"><rect x="509.45" y="200.7" width="34.5" height="7"/><text x="526.7" y="204.2">WEP Cracking</text></g>
<g id="gb1b" class="n gr"><rect x="509.45" y="211.9" width="34.5" height="7"/><text x="526.7" y="215.4">WPA Handshake</text></g>
<g id="gb1c" class="n gr"><rect x="509.45" y="223.1" width="34.5" height="7"/><text x="526.7" y="226.6">WPS Pin Attack</text></g>
<g id="gb1d" class="n gr"><rect x="509.45" y="234.3" width="34.5" height="7"/><text x="526.7" y="237.8">Evil Twin</text></g>
<g id="gb1e" class="n gr"><rect x="509.45" y="245.5" width="34.5" height="7"/><text x="526.7" y="249">Deauth Attack</text></g>
<g id="gb1f" class="n gr"><rect x="509.45" y="256.7" width="34.5" height="7"/><text x="526.7" y="260.2">PMKID Attack</text></g>
<g id="gb1g" class="n gr"><rect x="509.45" y="267.9" width="34.5" height="7"/><text x="526.7" y="271.4">Rogue AP</text></g>
<g id="gb1h" class="n gr"><rect x="509.45" y="279.1" width="34.5" height="7"/><text x="526.7" y="282.6">Karma Attack</text></g>
<g id="gb1i" class="n gr"><rect x="509.45" y="290.3" width="34.5" height="7"/><text x="526.7" y="293.8">Captive Portal</text></g>
<g id="gb2a" class="n gr"><rect x="509.45" y="309.5" width="34.5" height="7"/><text x="526.7" y="313">Wireshark</text></g>
<g id="gb2b" class="n gr"><rect x="509.45" y="320.15" width="34.5" height="12.7"/><text x="526.7" y="326.5"><tspan x="526.7" dy="-1.3">Tcpdump Capture</tspan><tspan x="526.7" dy="2.6">Packets</tspan></text></g>
<g id="gb2c" class="n gr"><rect x="509.45" y="336.8" width="34.5" height="7"/><text x="526.7" y="340.3">Ettercap</text></g>
<g id="gb2d" class="n gr"><rect x="509.45" y="348.1" width="34.5" height="7"/><text x="526.7" y="351.6">Bettercap</text></g>
<g id="gb2e" class="n gr"><rect x="509.45" y="359.1" width="34.5" height="7"/><text x="526.7" y="362.6">ARP Spoofing</text></g>
<g id="gb2f" class="n gr"><rect x="509.45" y="370.3" width="34.5" height="7"/><text x="526.7" y="373.8">DNS Spoofing</text></g>
<g id="gb2g" class="n gr"><rect x="509.45" y="381.3" width="34.5" height="7"/><text x="526.7" y="384.8">DHCP Spoofing</text></g>
<g id="gb2h" class="n gr"><rect x="509.45" y="392.5" width="34.5" height="7"/><text x="526.7" y="396">MAC Flooding</text></g>
<g id="gb2i" class="n gr"><rect x="509.45" y="403.8" width="34.5" height="7"/><text x="526.7" y="407.3">SSL Stripping</text></g>
<g id="gb2j" class="n gr"><rect x="509.45" y="415" width="34.5" height="7"/><text x="526.7" y="418.5">Credential Sniffing</text></g>
<g id="gb2k" class="n gr"><rect x="509.45" y="426.3" width="34.5" height="7"/><text x="526.7" y="429.8">Session Hijacking</text></g>
<g id="gb2l" class="n gr"><rect x="509.45" y="437.5" width="34.5" height="7"/><text x="526.7" y="441">VLAN Hopping</text></g>
<g id="gb2m" class="n gr"><rect x="509.45" y="448.7" width="34.5" height="7"/><text x="526.7" y="452.2">STP Attacks</text></g>
<g id="gb3a" class="n gr"><rect x="509.45" y="469.8" width="34.5" height="7"/><text x="526.7" y="473.3">Fragmentation</text></g>
<g id="gb3b" class="n gr"><rect x="509.45" y="481" width="34.5" height="7"/><text x="526.7" y="484.5">Decoys</text></g>
<g id="gb3c" class="n gr"><rect x="509.45" y="492.1" width="34.5" height="7"/><text x="526.7" y="495.6">Source Port</text></g>
<g id="gb3d" class="n gr"><rect x="509.45" y="503.3" width="34.5" height="7"/><text x="526.7" y="506.8">Timing</text></g>
<g id="gb3e" class="n gr"><rect x="509.45" y="514.4" width="34.5" height="7"/><text x="526.7" y="517.9">Spoofed MAC</text></g>
<g id="gb3f" class="n gr"><rect x="509.45" y="525.6" width="34.5" height="7"/><text x="526.7" y="529.1">Bad Checksums</text></g>
<g id="gb3g" class="n gr"><rect x="509.45" y="536.8" width="34.5" height="7"/><text x="526.7" y="540.3">Data Length</text></g>
<g id="gb3h" class="n gr"><rect x="509.45" y="547.9" width="34.5" height="7"/><text x="526.7" y="551.4">TTL Manipulation</text></g>
<g id="gb3i" class="n gr"><rect x="509.45" y="559.1" width="34.5" height="7"/><text x="526.7" y="562.6">IP Options</text></g>
<g id="gb3j" class="n gr"><rect x="509.45" y="570.2" width="34.5" height="7"/><text x="526.7" y="573.7">Proxy Chains</text></g>
<g id="gb3k" class="n gr"><rect x="509.45" y="581.4" width="34.5" height="7"/><text x="526.7" y="584.9">Tunneling</text></g>
<g id="gb4a" class="n gr"><rect x="509.45" y="603.9" width="34.5" height="7"/><text x="526.7" y="607.4">HTTP</text></g>
<g id="gb4b" class="n gr"><rect x="509.45" y="615.1" width="34.5" height="7"/><text x="526.7" y="618.6">FTP</text></g>
<g id="gb4c" class="n gr"><rect x="509.45" y="626.2" width="34.5" height="7"/><text x="526.7" y="629.7">SSH</text></g>
<g id="gb4d" class="n gr"><rect x="509.45" y="637.4" width="34.5" height="7"/><text x="526.7" y="640.9">Telnet</text></g>
<g id="gb4e" class="n gr"><rect x="509.45" y="648.5" width="34.5" height="7"/><text x="526.7" y="652">SMTP</text></g>
<g id="gb4f" class="n gr"><rect x="509.45" y="659.7" width="34.5" height="7"/><text x="526.7" y="663.2">SNMP</text></g>
<g id="gb4g" class="n gr"><rect x="509.45" y="670.9" width="34.5" height="7"/><text x="526.7" y="674.4">LDAP</text></g>
<g id="gb4h" class="n gr"><rect x="509.45" y="682" width="34.5" height="7"/><text x="526.7" y="685.5">Kerberos</text></g>
<g id="bc1" class="n bl"><rect x="563.75" y="201.45" width="24.5" height="7.5"/><text x="576" y="205.2">Routing</text></g>
<g id="bc2" class="n bl"><rect x="563.75" y="276.25" width="24.5" height="7.5"/><text x="576" y="280">DNS</text></g>
<g id="bc3" class="n bl"><rect x="563.75" y="339.85" width="24.5" height="7.5"/><text x="576" y="343.6">Tunneling</text></g>
<g id="bc4" class="n bl"><rect x="563.75" y="425.6" width="24.5" height="12"/><text x="576" y="431.6"><tspan x="576" dy="-1.3">Remote Access</tspan><tspan x="576" dy="2.6">Tools</tspan></text></g>
<g id="bc5" class="n bl"><rect x="563.75" y="480.55" width="24.5" height="7.5"/><text x="576" y="484.3">Proxies</text></g>
<g id="gc1a" class="n gr"><rect x="600.1" y="201.7" width="35.8" height="7"/><text x="618" y="205.2">OSPF Attacks</text></g>
<g id="gc1b" class="n gr"><rect x="600.1" y="212.5" width="35.8" height="7"/><text x="618" y="216">BGP Hijacking</text></g>
<g id="gc1c" class="n gr"><rect x="600.1" y="223.7" width="35.8" height="7"/><text x="618" y="227.2">RIP Poisoning</text></g>
<g id="gc1d" class="n gr"><rect x="600.1" y="235.2" width="35.8" height="7"/><text x="618" y="238.7">EIGRP</text></g>
<g id="gc1e" class="n gr"><rect x="600.1" y="246.2" width="35.8" height="7"/><text x="618" y="249.7">HSRP</text></g>
<g id="gc1f" class="n gr"><rect x="600.1" y="257.4" width="35.8" height="7"/><text x="618" y="260.9">VRRP</text></g>
<g id="gc2a" class="n gr"><rect x="600.1" y="276.8" width="35.8" height="7"/><text x="618" y="280.3">Zone Transfer</text></g>
<g id="gc2b" class="n gr"><rect x="600.1" y="286.6" width="35.8" height="7"/><text x="618" y="290.1">DNS Tunneling</text></g>
<g id="gc2c" class="n gr"><rect x="600.1" y="297.8" width="35.8" height="7"/><text x="618" y="301.3">Cache Poisoning</text></g>
<g id="gc2d" class="n gr"><rect x="600.1" y="309.1" width="35.8" height="7"/><text x="618" y="312.6">Subdomain Takeover</text></g>
<g id="gc2e" class="n gr"><rect x="600.1" y="320.3" width="35.8" height="7"/><text x="618" y="323.8">DNS Rebinding</text></g>
<g id="gc3a" class="n gr"><rect x="600.1" y="340.1" width="35.8" height="7"/><text x="618" y="343.6">SSH</text></g>
<g id="gc3b" class="n gr"><rect x="600.1" y="351.3" width="35.8" height="7"/><text x="618" y="354.8">ICMP Tunnel</text></g>
<g id="gc3c" class="n gr"><rect x="600.1" y="362.5" width="35.8" height="7"/><text x="618" y="366">DNS Tunnel</text></g>
<g id="gc3d" class="n gr"><rect x="600.1" y="373.7" width="35.8" height="7"/><text x="618" y="377.2">HTTP Tunnel</text></g>
<g id="gc3e" class="n gr"><rect x="600.1" y="384.9" width="35.8" height="7"/><text x="618" y="388.4">VPN</text></g>
<g id="gc3f" class="n gr"><rect x="600.1" y="396.1" width="35.8" height="7"/><text x="618" y="399.6">GRE</text></g>
<g id="gc3g" class="n gr"><rect x="600.1" y="407.3" width="35.8" height="7"/><text x="618" y="410.8">IPv6 Tunnel</text></g>
<g id="gc4a" class="n gr"><rect x="600.1" y="428.1" width="35.8" height="7"/><text x="618" y="431.6">RDP</text></g>
<g id="gc4b" class="n gr"><rect x="600.1" y="439.3" width="35.8" height="7"/><text x="618" y="442.8">VNC</text></g>
<g id="gc4c" class="n gr"><rect x="600.1" y="450.3" width="35.8" height="7"/><text x="618" y="453.8">TeamViewer</text></g>
<g id="gc4d" class="n gr"><rect x="600.1" y="461.5" width="35.8" height="7"/><text x="618" y="465">AnyDesk</text></g>
<g id="gc5a" class="n gr"><rect x="600.1" y="480.8" width="35.8" height="7"/><text x="618" y="484.3">Burp Suite</text></g>
<g id="gc5b" class="n gr"><rect x="600.1" y="492" width="35.8" height="7"/><text x="618" y="495.5">Socks Proxy Server</text></g>
<g id="qc5" class="n pu"><rect x="644.15" y="492" width="25.7" height="7"/><text x="657" y="495.5">Proxychains</text></g>
<g id="kc1" class="n pk"><rect x="663.05" y="504.7" width="25.5" height="7"/><text x="675.8" y="508.2">Tor</text></g>
<g id="kc2" class="n pk"><rect x="663.05" y="514.5" width="25.5" height="7"/><text x="675.8" y="518">Socks4</text></g>
<g id="kc3" class="n pk"><rect x="663.05" y="524.3" width="25.5" height="7"/><text x="675.8" y="527.8">Socks5</text></g>
<g id="kc4" class="n pk"><rect x="663.05" y="534.1" width="25.5" height="7"/><text x="675.8" y="537.6">HTTP</text></g>
<g id="kc5" class="n pk"><rect x="663.05" y="543.9" width="25.5" height="7"/><text x="675.8" y="547.4">Chain</text></g>
<g id="bd1" class="n bl"><rect x="702.25" y="199.85" width="24.5" height="7.5"/><text x="714.5" y="203.6">Host Recon</text></g>
<g id="bd2" class="n bl"><rect x="702.25" y="267.55" width="24.5" height="7.5"/><text x="714.5" y="271.3">Users</text></g>
<g id="bd3" class="n bl"><rect x="702.25" y="325.75" width="24.5" height="7.5"/><text x="714.5" y="329.5">Files</text></g>
<g id="bd4" class="n bl"><rect x="702.25" y="355.75" width="24.5" height="7.5"/><text x="714.5" y="359.5">Processes</text></g>
<g id="bd5" class="n bl"><rect x="702.25" y="474.85" width="24.5" height="7.5"/><text x="714.5" y="478.6">Network</text></g>
<g id="bd6" class="n bl"><rect x="702.25" y="509.6" width="24.5" height="15"/><text x="714.5" y="517.1"><tspan x="714.5" dy="-2.6">Security</tspan><tspan x="714.5" dy="2.6">Tools and</tspan><tspan x="714.5" dy="2.6">Monitoring</tspan></text></g>
<g id="bd7" class="n bl"><rect x="702.25" y="535.45" width="24.5" height="7.5"/><text x="714.5" y="539.2">Logs</text></g>
<g id="bd8" class="n bl"><rect x="702.25" y="613.45" width="24.5" height="7.5"/><text x="714.5" y="617.2">Packages</text></g>
<g id="bd9" class="n bl"><rect x="702.25" y="642.25" width="24.5" height="7.5"/><text x="714.5" y="646">Services</text></g>
<g id="gd1a" class="n gr"><rect x="735" y="200.1" width="24.5" height="7"/><text x="747.25" y="203.6">Hostname</text></g>
<g id="gd1b" class="n gr"><rect x="735" y="209.9" width="24.5" height="7"/><text x="747.25" y="213.4">Kernel Version</text></g>
<g id="gd1c" class="n gr"><rect x="735" y="219.5" width="24.5" height="7"/><text x="747.25" y="223">OS Release</text></g>
<g id="gd1d" class="n gr"><rect x="735" y="229.4" width="24.5" height="7"/><text x="747.25" y="232.9">Architecture</text></g>
<g id="gd1e" class="n gr"><rect x="735" y="239" width="36.5" height="7"/><text x="753.25" y="242.5">Environment Variables</text></g>
<g id="gd1f" class="n gr"><rect x="735" y="248.7" width="24.5" height="7"/><text x="747.25" y="252.2">Uptime</text></g>
<g id="gd2a" class="n gr"><rect x="735" y="268" width="36.5" height="7"/><text x="753.25" y="271.5">/etc/passwd Entries</text></g>
<g id="gd2b" class="n gr"><rect x="735" y="277.7" width="36.5" height="7"/><text x="753.25" y="281.2">/etc/shadow Hashes</text></g>
<g id="gd2c" class="n gr"><rect x="735" y="287.4" width="36.5" height="7"/><text x="753.25" y="290.9">Sudoers Configuration</text></g>
<g id="gd2d" class="n gr"><rect x="735" y="297.2" width="36.5" height="7"/><text x="753.25" y="300.7">Group Membership</text></g>
<g id="gd2e" class="n gr"><rect x="735" y="307" width="36.5" height="7"/><text x="753.25" y="310.5">Logged In Users</text></g>
<g id="gd3a" class="n gr"><rect x="735" y="326" width="36.5" height="7"/><text x="753.25" y="329.5">SUID Files Search</text></g>
<g id="gd3b" class="n gr"><rect x="735" y="336.8" width="36.5" height="7"/><text x="753.25" y="340.3">World Writable Files</text></g>
<g id="qd3" class="n pu"><rect x="779" y="336.8" width="35" height="7"/><text x="796.5" y="340.3">find / -perm</text></g>
<g id="empty" class="n gr"><rect x="826.5" y="332.8" width="36" height="7"/></g>
<g id="gd4a" class="n gr"><rect x="735" y="356" width="36.5" height="7"/><text x="753.25" y="359.5">ps aux Listing</text></g>
<g id="gd4b" class="n gr"><rect x="735" y="365.9" width="36.5" height="7"/><text x="753.25" y="369.4">Cron Jobs Running</text></g>
<g id="gd4c" class="n gr"><rect x="735" y="375.8" width="36.5" height="7"/><text x="753.25" y="379.3">Systemd Services</text></g>
<g id="gd4d" class="n gr"><rect x="735" y="385.7" width="36.5" height="7"/><text x="753.25" y="389.2">Open File Handles</text></g>
<g id="gd4e" class="n gr"><rect x="735" y="395.6" width="36.5" height="7"/><text x="753.25" y="399.1">Process Tree</text></g>
<g id="gd4f" class="n gr"><rect x="735" y="405.5" width="36.5" height="7"/><text x="753.25" y="409">Running as Root</text></g>
<g id="gd4g" class="n gr"><rect x="735" y="415.4" width="36.5" height="7"/><text x="753.25" y="418.9">Capabilities Set</text></g>
<g id="gd4h" class="n gr"><rect x="735" y="425.3" width="36.5" height="7"/><text x="753.25" y="428.8">Docker Containers</text></g>
<g id="gd4i" class="n gr"><rect x="735" y="435.2" width="36.5" height="7"/><text x="753.25" y="438.7">Kernel Modules</text></g>
<g id="gd4j" class="n gr"><rect x="735" y="445.1" width="36.5" height="7"/><text x="753.25" y="448.6">Environment</text></g>
<g id="gd4k" class="n gr"><rect x="735" y="455" width="36.5" height="7"/><text x="753.25" y="458.5">Timers</text></g>
<g id="gd5a" class="n gr"><rect x="735" y="475.1" width="36.5" height="7"/><text x="753.25" y="478.6">Network Interfaces</text></g>
<g id="gd5b" class="n gr"><rect x="735" y="485.1" width="36.5" height="7"/><text x="753.25" y="488.6">Listening Ports</text></g>
<g id="gd5c" class="n gr"><rect x="735" y="494.6" width="36.5" height="7"/><text x="753.25" y="498.1">Routing Table</text></g>
<g id="gd6a" class="n gr"><rect x="735" y="513.6" width="36.5" height="7"/><text x="753.25" y="517.1">Auditd Rules</text></g>
<g id="gd7a" class="n gr"><rect x="735" y="535.7" width="36.5" height="7"/><text x="753.25" y="539.2">auth.log</text></g>
<g id="gd7b" class="n gr"><rect x="735" y="545.5" width="36.5" height="7"/><text x="753.25" y="549">syslog</text></g>
<g id="gd7c" class="n gr"><rect x="735" y="555.3" width="36.5" height="7"/><text x="753.25" y="558.8">kern.log</text></g>
<g id="gd7d" class="n gr"><rect x="735" y="565.1" width="36.5" height="7"/><text x="753.25" y="568.6">wtmp / btmp</text></g>
<g id="gd7e" class="n gr"><rect x="735" y="574.9" width="36.5" height="7"/><text x="753.25" y="578.4">lastlog</text></g>
<g id="gd7f" class="n gr"><rect x="735" y="584.7" width="36.5" height="7"/><text x="753.25" y="588.2">bash_history</text></g>
<g id="gd7g" class="n gr"><rect x="735" y="594.5" width="36.5" height="7"/><text x="753.25" y="598">journalctl</text></g>
<g id="gd8a" class="n gr"><rect x="735" y="613.7" width="36.5" height="7"/><text x="753.25" y="617.2">Installed Packages</text></g>
<g id="gd8b" class="n gr"><rect x="735" y="623.7" width="36.5" height="7"/><text x="753.25" y="627.2">Outdated Versions</text></g>
<g id="gd9a" class="n gr"><rect x="735" y="642.5" width="36.5" height="7"/><text x="753.25" y="646">SSH Daemon</text></g>
<g id="gd9b" class="n gr"><rect x="735" y="652.3" width="36.5" height="7"/><text x="753.25" y="655.8">Apache / Nginx</text></g>
<g id="gd9c" class="n gr"><rect x="735" y="662.1" width="36.5" height="7"/><text x="753.25" y="665.6">MySQL Server</text></g>
<g id="gd9d" class="n gr"><rect x="735" y="671.9" width="36.5" height="7"/><text x="753.25" y="675.4">NFS Exports</text></g>
<g id="gd9e" class="n gr"><rect x="735" y="681.7" width="36.5" height="7"/><text x="753.25" y="685.2">Samba</text></g>
<g id="be1" class="n bl"><rect x="788.75" y="198" width="24.5" height="12"/><text x="801" y="204"><tspan x="801" dy="-1.3">Identity</tspan><tspan x="801" dy="2.6">Management</tspan></text></g>
<g id="ge1a" class="n gr"><rect x="822.75" y="201.3" width="24.5" height="7"/><text x="835" y="204.8">Users</text></g>
<g id="ge1b" class="n gr"><rect x="822.75" y="211.05" width="24.5" height="7"/><text x="835" y="214.55">Groups</text></g>
<g id="ge1c" class="n gr"><rect x="822.75" y="220.8" width="24.5" height="7"/><text x="835" y="224.3">Roles</text></g>
<g id="ge1d" class="n gr"><rect x="822.75" y="230.55" width="24.5" height="7"/><text x="835" y="234.05">Policies</text></g>
<g id="ge1e" class="n gr"><rect x="822.75" y="240.3" width="24.5" height="7"/><text x="835" y="243.8">Permissions</text></g>
<g id="ge1f" class="n gr"><rect x="822.75" y="250.05" width="24.5" height="7"/><text x="835" y="253.55">MFA</text></g>
<g id="ge1g" class="n gr"><rect x="822.75" y="259.8" width="24.5" height="7"/><text x="835" y="263.3">SSO</text></g>
<g id="ge1h" class="n gr"><rect x="822.75" y="269.55" width="24.5" height="7"/><text x="835" y="273.05">SAML</text></g>
<g id="ge1i" class="n gr"><rect x="822.75" y="279.3" width="24.5" height="7"/><text x="835" y="282.8">OAuth</text></g>
<g id="ge1j" class="n gr"><rect x="822.75" y="289.05" width="36" height="7"/><text x="840.75" y="292.55">Service Account Keys</text></g>
<g id="ge1k" class="n gr"><rect x="822.75" y="298.8" width="36" height="7"/><text x="840.75" y="302.3">Access Reviews</text></g>
<g id="be2" class="n bl"><rect x="789.25" y="356.7" width="24.5" height="10.6"/><text x="801.5" y="362"><tspan x="801.5" dy="-1.3">Identity</tspan><tspan x="801.5" dy="2.6">Provider (IdP)</tspan></text></g>
<g id="ge2a" class="n gr"><rect x="832.65" y="358.5" width="36.3" height="7"/><text x="850.8" y="362">Okta</text></g>
<g id="ge2b" class="n gr"><rect x="832.65" y="367.9" width="36.3" height="7"/><text x="850.8" y="371.4">Azure AD</text></g>
<g id="ge2c" class="n gr"><rect x="832.65" y="377.6" width="36.3" height="7"/><text x="850.8" y="381.1">Federation Trust</text></g>
<g id="ge2d" class="n gr"><rect x="832.65" y="428.9" width="36.3" height="7"/><text x="850.8" y="432.4">Token Manipulation</text></g>
<g id="ge2e" class="n gr"><rect x="832.65" y="528.9" width="36.3" height="7"/><text x="850.8" y="532.4">Identity Attacks</text></g>
<g id="ge2f" class="n gr"><rect x="832.65" y="600" width="36.3" height="7"/><text x="850.8" y="603.5">Cloud Accounts</text></g>
<g id="ge2g" class="n gr"><rect x="832.65" y="660.9" width="36.3" height="7"/><text x="850.8" y="664.4">On-prem Sync</text></g>
<g id="qe3a" class="n pu"><rect x="854.75" y="388.1" width="35.5" height="7"/><text x="872.5" y="391.6">SAML Forgery</text></g>
<g id="qe3b" class="n pu"><rect x="854.75" y="397.7" width="35.5" height="7"/><text x="872.5" y="401.2">Golden SAML</text></g>
<g id="qe3c" class="n pu"><rect x="854.75" y="407.5" width="35.5" height="7"/><text x="872.5" y="411">Token Theft</text></g>
<g id="qe3d" class="n pu"><rect x="854.75" y="417.1" width="35.5" height="7"/><text x="872.5" y="420.6">ADFS Exploitation</text></g>
<g id="qe4a" class="n pu"><rect x="854.75" y="438.5" width="35.5" height="7"/><text x="872.5" y="442">Access Tokens</text></g>
<g id="qe4b" class="n pu"><rect x="854.75" y="448.3" width="35.5" height="7"/><text x="872.5" y="451.8">Refresh Tokens</text></g>
<g id="qe4c" class="n pu"><rect x="854.75" y="458.1" width="35.5" height="7"/><text x="872.5" y="461.6">PRT Abuse</text></g>
<g id="qe4d" class="n pu"><rect x="854.75" y="467.9" width="35.5" height="7"/><text x="872.5" y="471.4">JWT Attacks</text></g>
<g id="qe4e" class="n pu"><rect x="854.75" y="477.7" width="35.5" height="7"/><text x="872.5" y="481.2">Consent Phishing</text></g>
<g id="qe4f" class="n pu"><rect x="854.75" y="487.5" width="35.5" height="7"/><text x="872.5" y="491">Device Code Phish</text></g>
<g id="qe4g" class="n pu"><rect x="854.75" y="497.3" width="35.5" height="7"/><text x="872.5" y="500.8">App Registrations</text></g>
<g id="qe4h" class="n pu"><rect x="854.75" y="507.1" width="35.5" height="7"/><text x="872.5" y="510.6">Graph API Abuse</text></g>
<g id="qe4i" class="n pu"><rect x="854.75" y="516.9" width="35.5" height="7"/><text x="872.5" y="520.4">Token Replay</text></g>
<g id="qe5a" class="n pu"><rect x="854.75" y="539" width="35.5" height="7"/><text x="872.5" y="542.5">Password Spray</text></g>
<g id="qe5b" class="n pu"><rect x="854.75" y="548.7" width="35.5" height="7"/><text x="872.5" y="552.2">MFA Fatigue</text></g>
<g id="qe5c" class="n pu"><rect x="854.75" y="558.5" width="35.5" height="7"/><text x="872.5" y="562">Legacy Auth</text></g>
<g id="qe5d" class="n pu"><rect x="854.75" y="568.2" width="35.5" height="7"/><text x="872.5" y="571.7">Conditional Access</text></g>
<g id="qe5e" class="n pu"><rect x="854.75" y="578" width="35.5" height="7"/><text x="872.5" y="581.5">Guest Accounts</text></g>
<g id="qe5f" class="n pu"><rect x="854.75" y="587.7" width="35.5" height="7"/><text x="872.5" y="591.2">Dynamic Groups</text></g>
<g id="qe6a" class="n pu"><rect x="854.75" y="609.6" width="35.5" height="7"/><text x="872.5" y="613.1">Privileged Roles</text></g>
<g id="qe6b" class="n pu"><rect x="854.75" y="619.4" width="35.5" height="7"/><text x="872.5" y="622.9">Global Admin</text></g>
<g id="qe6c" class="n pu"><rect x="854.75" y="629.2" width="35.5" height="7"/><text x="872.5" y="632.7">Backdoor Apps</text></g>
<g id="qe6d" class="n pu"><rect x="854.75" y="639" width="35.5" height="7"/><text x="872.5" y="642.5">Service Principals</text></g>
<g id="qe6e" class="n pu"><rect x="854.75" y="648.8" width="35.5" height="7"/><text x="872.5" y="652.3">Key Vault Access</text></g>
<g id="qe7a" class="n pu"><rect x="854.75" y="671.9" width="35.5" height="7"/><text x="872.5" y="675.4">Password Hash Sync</text></g>
<g id="qe7b" class="n pu"><rect x="854.75" y="681.7" width="35.5" height="7"/><text x="872.5" y="685.2">Pass-through Auth</text></g>
<g id="bf1" class="n bl"><rect x="869.45" y="200.25" width="24.5" height="7.5"/><text x="881.7" y="204">Storage</text></g>
<g id="bf2" class="n bl"><rect x="869.45" y="265.95" width="24.5" height="7.5"/><text x="881.7" y="269.7">Compute</text></g>
<g id="gf1a" class="n gr"><rect x="910.4" y="201.3" width="25" height="7"/><text x="922.9" y="204.8">S3 Buckets</text></g>
<g id="gf1b" class="n gr"><rect x="910.4" y="210.9" width="25" height="7"/><text x="922.9" y="214.4">Blob Storage</text></g>
<g id="gf1c" class="n gr"><rect x="910.4" y="220.7" width="25" height="7"/><text x="922.9" y="224.2">GCS Buckets</text></g>
<g id="gf1d" class="n gr"><rect x="910.4" y="230.5" width="25" height="7"/><text x="922.9" y="234">Public ACLs</text></g>
<g id="gf1e" class="n gr"><rect x="910.4" y="240.1" width="25" height="7"/><text x="922.9" y="243.6">Snapshots</text></g>
<g id="gf1f" class="n gr"><rect x="910.4" y="249.9" width="25" height="7"/><text x="922.9" y="253.4">Backups</text></g>
<g id="gf2a" class="n gr"><rect x="911.05" y="266.2" width="24.5" height="7"/><text x="923.3" y="269.7">EC2</text></g>
<g id="gf2b" class="n gr"><rect x="911.05" y="276" width="24.5" height="7"/><text x="923.3" y="279.5">Lambda</text></g>
<g id="gf2c" class="n gr"><rect x="911.05" y="285.8" width="24.5" height="7"/><text x="923.3" y="289.3">Containers</text></g>
<g id="gf2d" class="n gr"><rect x="911.05" y="295.6" width="24.5" height="7"/><text x="923.3" y="299.1">Kubernetes</text></g>
<g id="gf2e" class="n gr"><rect x="911.05" y="305.4" width="24.5" height="7"/><text x="923.3" y="308.9">Metadata</text></g>
<g id="gf2f" class="n gr"><rect x="911.05" y="315.2" width="24.5" height="7"/><text x="923.3" y="318.7">IAM Roles</text></g>
<g id="gf2g" class="n gr"><rect x="911.05" y="325" width="24.5" height="7"/><text x="923.3" y="328.5">Secrets</text></g>
<g id="gf2h" class="n gr"><rect x="911.05" y="334.8" width="24.5" height="7"/><text x="923.3" y="338.3">VPC</text></g>
<g id="gf2i" class="n gr"><rect x="911.05" y="344.6" width="24.5" height="7"/><text x="923.3" y="348.1">Logging</text></g>
<g id="gf2j" class="n gr"><rect x="911.05" y="354.4" width="24.5" height="7"/><text x="923.3" y="357.9">Monitoring</text></g>
<g id="qf2" class="n pu"><rect x="942.7" y="344.6" width="25" height="7"/><text x="955.2" y="348.1">CloudTrail</text></g>
<g id="kf1" class="n pk"><rect x="975.25" y="335" width="25.5" height="7"/><text x="988" y="338.5">Disable Trails</text></g>
<g id="kf2" class="n pk"><rect x="975.25" y="344.6" width="25.5" height="7"/><text x="988" y="348.1">Delete Logs</text></g>
<g id="kf3" class="n pk"><rect x="975.25" y="354.4" width="25.5" height="7"/><text x="988" y="357.9">Evade Alerts</text></g>
<g id="bg1" class="n bl"><rect x="943.75" y="200.25" width="24.5" height="7.5"/><text x="956" y="204">Cloud Tools</text></g>
<g id="gg1a" class="n gr"><rect x="975.95" y="200.7" width="24.5" height="7"/><text x="988.2" y="204.2">Pacu</text></g>
<g id="gg1b" class="n gr"><rect x="975.95" y="210.4" width="24.5" height="7"/><text x="988.2" y="213.9">ScoutSuite</text></g>
<g id="gg1c" class="n gr"><rect x="975.95" y="220.2" width="24.5" height="7"/><text x="988.2" y="223.7">Prowler</text></g>
<g id="gg1d" class="n gr"><rect x="975.95" y="229.9" width="24.5" height="7"/><text x="988.2" y="233.4">CloudMapper</text></g>
<g id="gg1e" class="n gr"><rect x="975.95" y="239.7" width="24.5" height="7"/><text x="988.2" y="243.2">CloudFox</text></g>
<g id="gg1f" class="n gr"><rect x="975.95" y="249.4" width="24.5" height="7"/><text x="988.2" y="252.9">Stratus</text></g>
<g id="gg1g" class="n gr"><rect x="975.95" y="259.1" width="24.5" height="7"/><text x="988.2" y="262.6">Trivy</text></g>
<g id="gg1h" class="n gr"><rect x="975.95" y="268.9" width="24.5" height="7"/><text x="988.2" y="272.4">kube-hunter</text></g>
<g id="gg1i" class="n gr"><rect x="975.95" y="278.6" width="24.5" height="7"/><text x="988.2" y="282.1">Peirates</text></g>
<g id="gg1j" class="n gr"><rect x="975.95" y="288.4" width="24.5" height="7"/><text x="988.2" y="291.9">Kubeaudit</text></g>
<g id="gg1k" class="n gr"><rect x="975.95" y="298.1" width="24.5" height="7"/><text x="988.2" y="301.6">Checkov</text></g>
<g id="gg1l" class="n gr"><rect x="975.95" y="307.8" width="24.5" height="7"/><text x="988.2" y="311.3">TruffleHog</text></g>
<g id="gg1m" class="n gr"><rect x="975.95" y="317.6" width="24.5" height="7"/><text x="988.2" y="321.1">Gitleaks</text></g>
<g id="bh" class="n bl"><rect x="1041.55" y="197.2" width="24.5" height="12"/><text x="1053.8" y="203.2"><tspan x="1053.8" dy="-1.3">Security</tspan><tspan x="1053.8" dy="2.6">Architecture</tspan></text></g>
<g id="gh1" class="n gr"><rect x="1079" y="200.3" width="25" height="7"/><text x="1091.5" y="203.8">Zero Trust</text></g>
<g id="gh2" class="n gr"><rect x="1079" y="209.8" width="25" height="7"/><text x="1091.5" y="213.3">Defense in Depth</text></g>
<g id="gh3" class="n gr"><rect x="1079" y="219.5" width="25" height="7"/><text x="1091.5" y="223">Least Privilege</text></g>
<g id="gh4" class="n gr"><rect x="1079" y="229.5" width="25" height="7"/><text x="1091.5" y="233">Segmentation</text></g>
<g id="gh5" class="n gr"><rect x="1079" y="239.2" width="25" height="7"/><text x="1091.5" y="242.7">Hardening</text></g>
<g id="gh6" class="n gr"><rect x="1079" y="248.75" width="25" height="15.3"/><text x="1091.5" y="256.4"><tspan x="1091.5" dy="-3.9">MITRE</tspan><tspan x="1091.5" dy="2.6">ATT&amp;CK</tspan><tspan x="1091.5" dy="2.6">Enterprise</tspan><tspan x="1091.5" dy="2.6">Matrix</tspan></text></g>
<g id="gh7" class="n gr"><rect x="1079" y="267" width="25" height="7"/><text x="1091.5" y="270.5">NIST CSF</text></g>
<g id="gh8" class="n gr"><rect x="1079" y="276.5" width="25" height="7"/><text x="1091.5" y="280">ISO 27001</text></g>
<g id="gh9" class="n gr"><rect x="1079" y="286.45" width="25" height="12.3"/><text x="1091.5" y="292.6"><tspan x="1091.5" dy="-2.6">CIS</tspan><tspan x="1091.5" dy="2.6">Controls</tspan><tspan x="1091.5" dy="2.6">Benchmarks</tspan></text></g>
<g id="gh10" class="n gr"><rect x="1079" y="301.15" width="25" height="12.7"/><text x="1091.5" y="307.5"><tspan x="1091.5" dy="-2.6">Cyber</tspan><tspan x="1091.5" dy="2.6">Kill Chain</tspan><tspan x="1091.5" dy="2.6">Model</tspan></text></g>
<g id="gh11" class="n gr"><rect x="1079" y="316.9" width="25" height="9.6"/><text x="1091.5" y="321.7"><tspan x="1091.5" dy="-1.3">OWASP</tspan><tspan x="1091.5" dy="2.6">Top 10</tspan></text></g>
<g id="gh12" class="n gr"><rect x="1079" y="329.6" width="25" height="9.6"/><text x="1091.5" y="334.4">Threat Modeling</text></g>
<g id="gh13" class="n gr"><rect x="1079" y="342" width="25" height="7"/><text x="1091.5" y="345.5">STRIDE</text></g>
<g id="gh14" class="n gr"><rect x="1079" y="351.7" width="25" height="7"/><text x="1091.5" y="355.2">DREAD</text></g>
<g id="gh15" class="n gr"><rect x="1079" y="361.5" width="25" height="7"/><text x="1091.5" y="365">PASTA</text></g>
<g id="w1" class="n gr"><rect x="1135.15" y="200.3" width="24.5" height="7"/><text x="1147.4" y="203.8">Burp Suite</text></g>
<g id="w2" class="n gr"><rect x="1135.15" y="209.8" width="24.5" height="7"/><text x="1147.4" y="213.3">OWASP ZAP</text></g>
<g id="w3" class="n gr"><rect x="1135.15" y="219.6" width="24.5" height="7"/><text x="1147.4" y="223.1">Nikto</text></g>
<g id="w4" class="n gr"><rect x="1135.15" y="229.4" width="24.5" height="7"/><text x="1147.4" y="232.9">Gobuster</text></g>
<g id="w5" class="n gr"><rect x="1135.15" y="239.2" width="24.5" height="7"/><text x="1147.4" y="242.7">ffuf</text></g>
<g id="w6" class="n gr"><rect x="1135.15" y="249" width="24.5" height="7"/><text x="1147.4" y="252.5">SQLMap</text></g>
<g id="w7" class="n gr"><rect x="1135.15" y="258.8" width="24.5" height="7"/><text x="1147.4" y="262.3">WPScan</text></g>
<g id="w8" class="n gr"><rect x="1135.15" y="268.6" width="24.5" height="7"/><text x="1147.4" y="272.1">XSStrike</text></g>
<g id="bi1" class="n bl"><rect x="1194.8" y="197.5" width="31" height="8"/><text x="1210.3" y="201.5">Threat Intelligence</text></g>
<g id="bi2" class="n bl"><rect x="1194.8" y="406" width="31" height="8"/><text x="1210.3" y="410">Social Engineering</text></g>
<g id="bi3" class="n bl"><rect x="1194.8" y="514.2" width="31" height="8"/><text x="1210.3" y="518.2">Physical Security</text></g>
<g id="gi1a" class="n gr"><rect x="1234.8" y="198" width="25.4" height="7"/><text x="1247.5" y="201.5">OSINT</text></g>
<g id="gi1b" class="n gr"><rect x="1234.8" y="207.8" width="25.4" height="7"/><text x="1247.5" y="211.3">Shodan</text></g>
<g id="gi1c" class="n gr"><rect x="1234.8" y="217.6" width="25.4" height="7"/><text x="1247.5" y="221.1">Censys</text></g>
<g id="gi1d" class="n gr"><rect x="1234.8" y="227.4" width="25.4" height="7"/><text x="1247.5" y="230.9">Maltego</text></g>
<g id="gi1e" class="n gr"><rect x="1234.8" y="237.2" width="25.4" height="7"/><text x="1247.5" y="240.7">theHarvester</text></g>
<g id="gi1f" class="n gr"><rect x="1234.8" y="246.9" width="25.4" height="10"/><text x="1247.5" y="251.9"><tspan x="1247.5" dy="-1.3">Recon-ng</tspan><tspan x="1247.5" dy="2.6">Framework</tspan></text></g>
<g id="gi1g" class="n gr"><rect x="1234.8" y="259.1" width="25.4" height="7"/><text x="1247.5" y="262.6">SpiderFoot</text></g>
<g id="gi1h" class="n gr"><rect x="1234.8" y="269.2" width="25.4" height="7"/><text x="1247.5" y="272.7">Amass</text></g>
<g id="gi1i" class="n gr"><rect x="1234.8" y="278.8" width="25.4" height="10"/><text x="1247.5" y="283.8"><tspan x="1247.5" dy="-1.3">Have I Been</tspan><tspan x="1247.5" dy="2.6">Pwned Dumps</tspan></text></g>
<g id="gi1j" class="n gr"><rect x="1234.8" y="291.1" width="25.4" height="7"/><text x="1247.5" y="294.6">Pastebin</text></g>
<g id="gi1k" class="n gr"><rect x="1234.8" y="300.9" width="25.4" height="7"/><text x="1247.5" y="304.4">GitHub Dorks</text></g>
<g id="gi1l" class="n gr"><rect x="1234.8" y="310.7" width="25.4" height="7"/><text x="1247.5" y="314.2">Google Dorks</text></g>
<g id="gi1m" class="n gr"><rect x="1234.8" y="320.5" width="25.4" height="7"/><text x="1247.5" y="324">LinkedIn</text></g>
<g id="gi1n" class="n gr"><rect x="1234.8" y="330.3" width="25.4" height="7"/><text x="1247.5" y="333.8">Hunter.io</text></g>
<g id="gi1o" class="n gr"><rect x="1234.8" y="340.1" width="25.4" height="7"/><text x="1247.5" y="343.6">Wayback</text></g>
<g id="gi1p" class="n gr"><rect x="1234.8" y="349.9" width="25.4" height="7"/><text x="1247.5" y="353.4">DNSDumpster</text></g>
<g id="gi1q" class="n gr"><rect x="1234.8" y="359.7" width="25.4" height="7"/><text x="1247.5" y="363.2">crt.sh</text></g>
<g id="gi1r" class="n gr"><rect x="1234.8" y="369.5" width="25.4" height="7"/><text x="1247.5" y="373">VirusTotal</text></g>
<g id="gi1s" class="n gr"><rect x="1234.8" y="379.3" width="25.4" height="7"/><text x="1247.5" y="382.8">Whois</text></g>
<g id="gi1t" class="n gr"><rect x="1234.8" y="389.1" width="25.4" height="7"/><text x="1247.5" y="392.6">Breach Data</text></g>
<g id="gi2a" class="n gr"><rect x="1234.8" y="406.5" width="25.4" height="7"/><text x="1247.5" y="410">Spear Phishing</text></g>
<g id="gi2b" class="n gr"><rect x="1234.8" y="416.6" width="25.4" height="7"/><text x="1247.5" y="420.1">Vishing</text></g>
<g id="gi2c" class="n gr"><rect x="1234.8" y="426.6" width="25.4" height="7"/><text x="1247.5" y="430.1">Smishing</text></g>
<g id="gi2d" class="n gr"><rect x="1234.8" y="436.7" width="25.4" height="7"/><text x="1247.5" y="440.2">Pretexting</text></g>
<g id="gi2e" class="n gr"><rect x="1234.8" y="446.8" width="25.4" height="7"/><text x="1247.5" y="450.3">Baiting</text></g>
<g id="gi2f" class="n gr"><rect x="1234.8" y="456.9" width="25.4" height="7"/><text x="1247.5" y="460.4">GoPhish</text></g>
<g id="gi2g" class="n gr"><rect x="1234.8" y="466.9" width="25.4" height="7"/><text x="1247.5" y="470.4">Evilginx</text></g>
<g id="gi2h" class="n gr"><rect x="1234.8" y="477" width="25.4" height="7"/><text x="1247.5" y="480.5">SET Toolkit</text></g>
<g id="gi2i" class="n gr"><rect x="1234.8" y="487.1" width="25.4" height="7"/><text x="1247.5" y="490.6">Typosquatting</text></g>
<g id="gi2j" class="n gr"><rect x="1234.8" y="497.1" width="25.4" height="7"/><text x="1247.5" y="500.6">Watering Hole</text></g>
<g id="gi3a" class="n gr"><rect x="1234.8" y="514.7" width="25.4" height="7"/><text x="1247.5" y="518.2">Tailgating</text></g>
<g id="gi3b" class="n gr"><rect x="1234.8" y="524.5" width="25.4" height="7"/><text x="1247.5" y="528">Badge Cloning</text></g>
<g id="gi3c" class="n gr"><rect x="1234.8" y="534.2" width="25.4" height="10"/><text x="1247.5" y="539.2"><tspan x="1247.5" dy="-1.3">USB Drops</tspan><tspan x="1247.5" dy="2.6">Rubber Ducky</tspan></text></g>
<g id="bj1" class="n bl"><rect x="1292.2" y="195" width="30" height="8"/><text x="1307.2" y="199">Databases</text></g>
<g id="bj2" class="n bl"><rect x="1292.2" y="290.6" width="30" height="8"/><text x="1307.2" y="294.6">SQL Injection</text></g>
<g id="bj3" class="n bl"><rect x="1292.2" y="331" width="30" height="8"/><text x="1307.2" y="335">Blind SQLi</text></g>
<g id="bj4" class="n bl"><rect x="1292.2" y="370.2" width="30" height="8"/><text x="1307.2" y="374.2">Code Execution</text></g>
<g id="bj5" class="n bl"><rect x="1292.2" y="420.5" width="30" height="8"/><text x="1307.2" y="424.5">Authentication</text></g>
<g id="bj6" class="n bl"><rect x="1292.2" y="461" width="30" height="8"/><text x="1307.2" y="465">NoSQL</text></g>
<g id="bj7" class="n bl"><rect x="1292.2" y="535.2" width="30" height="8"/><text x="1307.2" y="539.2">Password Cracking</text></g>
<g id="bj8" class="n bl"><rect x="1292.2" y="596.6" width="30" height="8"/><text x="1307.2" y="600.6">Data Exfiltration</text></g>
<g id="bj9" class="n bl"><rect x="1292.2" y="681.8" width="30" height="8"/><text x="1307.2" y="685.8">Defense</text></g>
<g id="gj1a" class="n gr"><rect x="1330.3" y="195.5" width="35" height="7"/><text x="1347.8" y="199">MySQL</text></g>
<g id="gj1b" class="n gr"><rect x="1330.3" y="206.7" width="35" height="7"/><text x="1347.8" y="210.2">PostgreSQL</text></g>
<g id="gj1c" class="n gr"><rect x="1330.3" y="218" width="35" height="7"/><text x="1347.8" y="221.5">MSSQL</text></g>
<g id="gj1d" class="n gr"><rect x="1330.3" y="229.2" width="35" height="7"/><text x="1347.8" y="232.7">Oracle</text></g>
<g id="gj1e" class="n gr"><rect x="1330.3" y="240.4" width="35" height="7"/><text x="1347.8" y="243.9">MongoDB</text></g>
<g id="gj1f" class="n gr"><rect x="1330.3" y="251.7" width="35" height="7"/><text x="1347.8" y="255.2">Redis</text></g>
<g id="gj1g" class="n gr"><rect x="1330.3" y="262.9" width="35" height="7"/><text x="1347.8" y="266.4">Elasticsearch</text></g>
<g id="gj1h" class="n gr"><rect x="1330.3" y="274.1" width="35" height="7"/><text x="1347.8" y="277.6">Cassandra</text></g>
<g id="gj2a" class="n gr"><rect x="1330.3" y="291.1" width="35" height="7"/><text x="1347.8" y="294.6">Union Based</text></g>
<g id="gj2b" class="n gr"><rect x="1330.3" y="302.3" width="35" height="7"/><text x="1347.8" y="305.8">Error Based</text></g>
<g id="gj2c" class="n gr"><rect x="1330.3" y="313.4" width="35" height="7"/><text x="1347.8" y="316.9">Blind Boolean</text></g>
<g id="gj3a" class="n gr"><rect x="1330.3" y="331.5" width="35" height="7"/><text x="1347.8" y="335">Time Based</text></g>
<g id="gj3b" class="n gr"><rect x="1330.3" y="342.7" width="35" height="7"/><text x="1347.8" y="346.2">Out of Band</text></g>
<g id="gj3c" class="n gr"><rect x="1330.3" y="354" width="35" height="7"/><text x="1347.8" y="357.5">Second Order</text></g>
<g id="gj4a" class="n gr"><rect x="1330.3" y="370.7" width="35" height="7"/><text x="1347.8" y="374.2">xp_cmdshell</text></g>
<g id="gj4b" class="n gr"><rect x="1330.3" y="381.9" width="35" height="7"/><text x="1347.8" y="385.4">UDF Exec</text></g>
<g id="gj4c" class="n gr"><rect x="1330.3" y="393.2" width="35" height="7"/><text x="1347.8" y="396.7">COPY Program</text></g>
<g id="gj4d" class="n gr"><rect x="1330.3" y="404.2" width="35" height="7"/><text x="1347.8" y="407.7">Linked Servers</text></g>
<g id="gj5a" class="n gr"><rect x="1330.3" y="421" width="35" height="7"/><text x="1347.8" y="424.5">Default Creds</text></g>
<g id="gj5b" class="n gr"><rect x="1330.3" y="432.2" width="35" height="7"/><text x="1347.8" y="435.7">Brute Force</text></g>
<g id="gj5c" class="n gr"><rect x="1330.3" y="443.2" width="35" height="7"/><text x="1347.8" y="446.7">Hash Cracking</text></g>
<g id="gj6a" class="n gr"><rect x="1330.3" y="461.5" width="35" height="7"/><text x="1347.8" y="465">NoSQL Injection</text></g>
<g id="gj6b" class="n gr"><rect x="1330.3" y="472.7" width="35" height="7"/><text x="1347.8" y="476.2">Operator Injection</text></g>
<g id="gj6c" class="n gr"><rect x="1330.3" y="483.9" width="35" height="7"/><text x="1347.8" y="487.4">JS Injection</text></g>
<g id="gj6d" class="n gr"><rect x="1330.3" y="495.1" width="35" height="7"/><text x="1347.8" y="498.6">Auth Bypass</text></g>
<g id="gj6e" class="n gr"><rect x="1330.3" y="506.3" width="35" height="7"/><text x="1347.8" y="509.8">Data Extraction</text></g>
<g id="gj6f" class="n gr"><rect x="1330.3" y="517.5" width="35" height="7"/><text x="1347.8" y="521">Blind NoSQL</text></g>
<g id="gj7a" class="n gr"><rect x="1330.3" y="535.7" width="35" height="7"/><text x="1347.8" y="539.2">Hashcat</text></g>
<g id="gj7b" class="n gr"><rect x="1330.3" y="546.9" width="35" height="7"/><text x="1347.8" y="550.4">John the Ripper</text></g>
<g id="gj7c" class="n gr"><rect x="1330.3" y="558" width="35" height="7"/><text x="1347.8" y="561.5">Hydra</text></g>
<g id="gj7d" class="n gr"><rect x="1330.3" y="569.2" width="35" height="7"/><text x="1347.8" y="572.7">Medusa</text></g>
<g id="gj7e" class="n gr"><rect x="1330.3" y="580.4" width="35" height="7"/><text x="1347.8" y="583.9">CrackMapExec</text></g>
<g id="gj8a" class="n gr"><rect x="1330.3" y="597.1" width="35" height="7"/><text x="1347.8" y="600.6">Dumping</text></g>
<g id="gj8b" class="n gr"><rect x="1330.3" y="608.3" width="35" height="7"/><text x="1347.8" y="611.8">mysqldump</text></g>
<g id="gj8c" class="n gr"><rect x="1330.3" y="619.5" width="35" height="7"/><text x="1347.8" y="623">pg_dump</text></g>
<g id="gj8d" class="n gr"><rect x="1330.3" y="630.7" width="35" height="7"/><text x="1347.8" y="634.2">BCP Export</text></g>
<g id="gj8e" class="n gr"><rect x="1330.3" y="641.9" width="35" height="7"/><text x="1347.8" y="645.4">Exfil via DNS</text></g>
<g id="gj8f" class="n gr"><rect x="1330.3" y="653.1" width="35" height="7"/><text x="1347.8" y="656.6">Backup Files</text></g>
<g id="gj8g" class="n gr"><rect x="1330.3" y="664.3" width="35" height="7"/><text x="1347.8" y="667.8">Log Files</text></g>
<g id="gj9a" class="n gr"><rect x="1330.3" y="682.3" width="35" height="7"/><text x="1347.8" y="685.8">Hardening</text></g>
<g id="m1" class="n gr"><rect x="1399.2" y="196" width="25" height="7"/><text x="1411.7" y="199.5">APK</text></g>
<g id="m2" class="n gr"><rect x="1399.2" y="205.3" width="25" height="10"/><text x="1411.7" y="210.3"><tspan x="1411.7" dy="-1.3">Static Analysis</tspan><tspan x="1411.7" dy="2.6">Decompile</tspan></text></g>
<g id="m3" class="n gr"><rect x="1399.2" y="218" width="25" height="7"/><text x="1411.7" y="221.5">Frida</text></g>
<g id="m4" class="n gr"><rect x="1399.2" y="227.7" width="25" height="10"/><text x="1411.7" y="232.7"><tspan x="1411.7" dy="-1.3">Objection</tspan><tspan x="1411.7" dy="2.6">Dynamic</tspan></text></g>
<g id="m5" class="n gr"><rect x="1399.2" y="240.1" width="25" height="7"/><text x="1411.7" y="243.6">MobSF</text></g>
<g id="m6" class="n gr"><rect x="1399.2" y="249.8" width="25" height="10"/><text x="1411.7" y="254.8"><tspan x="1411.7" dy="-1.3">Android Storage</tspan><tspan x="1411.7" dy="2.6">Issues</tspan></text></g>
<g id="mq" class="n pu"><rect x="1431" y="251.3" width="25" height="7"/><text x="1443.5" y="254.8">Storage</text></g>
<g id="mk1" class="n pk"><rect x="1448.7" y="264" width="26" height="7"/><text x="1461.7" y="267.5">SharedPrefs</text></g>
<g id="mk2" class="n pk"><rect x="1448.7" y="273.8" width="26" height="7"/><text x="1461.7" y="277.3">SQLite</text></g>
<g id="mk3" class="n pk"><rect x="1448.7" y="283.5" width="26" height="7"/><text x="1461.7" y="287">Keystore</text></g>
<g id="mk4" class="n pk"><rect x="1448.7" y="293.4" width="26" height="7"/><text x="1461.7" y="296.9">Logs</text></g>
<g id="mk5" class="n pk"><rect x="1448.7" y="303.2" width="26" height="7"/><text x="1461.7" y="306.7">Cache</text></g>
</g>
</g>
</svg>
